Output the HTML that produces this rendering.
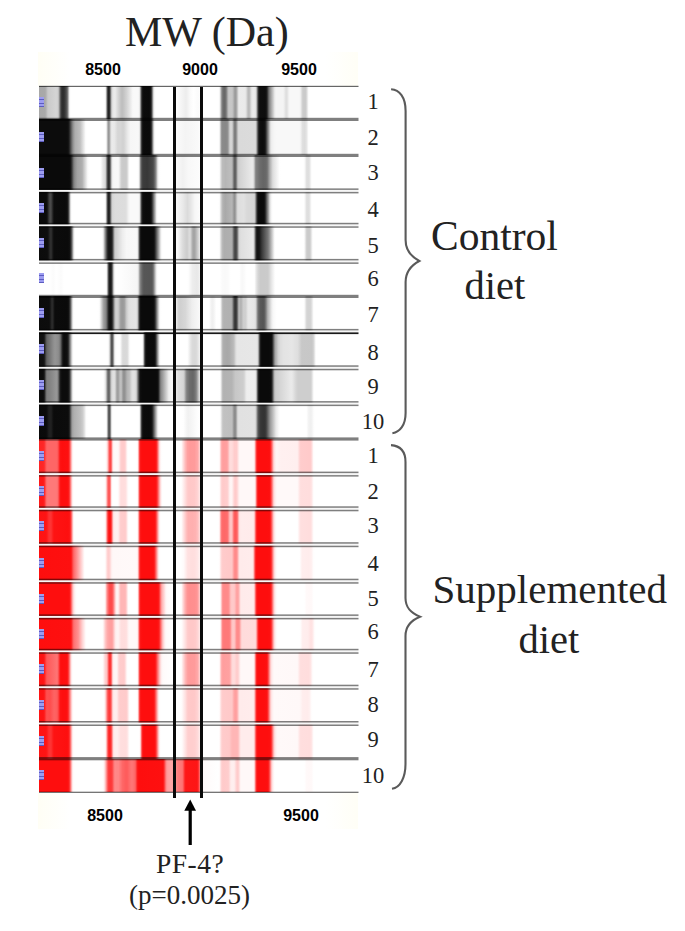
<!DOCTYPE html>
<html><head><meta charset="utf-8"><style>
*{margin:0;padding:0;box-sizing:border-box}
html,body{width:685px;height:931px;background:#fff;overflow:hidden;position:relative}
.ser{font-family:"Liberation Serif",serif;color:#222;position:absolute;white-space:nowrap;line-height:1}
.ax{font-family:"Liberation Sans",sans-serif;font-weight:bold;font-size:16px;color:#000;position:absolute;white-space:nowrap;line-height:1;width:60px;text-align:center}
.ln{position:absolute;left:39.0px;width:319.0px}
.sp{position:absolute;left:39.0px;width:319.5px;background:rgba(0,0,0,.5)}
.mk{position:absolute;left:39.4px;width:4.6px;height:10px;background:repeating-linear-gradient(180deg,#9c9cf0 0 2.4px,#5c5cc0 2.4px 3.4px)}
.vl{position:absolute;top:86.5px;height:711.5px;width:3.25px;background:#0a0a0a}
.num{font-family:"Liberation Serif",serif;color:#222;position:absolute;left:353px;width:40px;text-align:center;font-size:22.5px;line-height:1}
</style></head><body>
<div class="hdr" style="position:absolute;left:38px;top:52px;width:320px;height:34px;background:linear-gradient(90deg,#fffef5,#fff 10%,#fff 90%,#fffef6)"></div>
<div style="position:absolute;left:38px;top:793px;width:320px;height:36px;background:linear-gradient(90deg,#fffef5,#fff 10%,#fff 90%,#fffef6)"></div>
<div class="ser" style="left:125px;top:11px;font-size:42px">MW (Da)</div>
<div class="ax" style="left:73px;top:62px">8500</div>
<div class="ax" style="left:170px;top:62px">9000</div>
<div class="ax" style="left:269px;top:62px">9500</div>
<div class="ln" style="top:86.4px;height:33.0px;background:linear-gradient(90deg,rgb(167,167,167) 0.00px,rgb(169,169,169) 6.00px,rgb(177,177,177) 7.00px,rgb(199,199,199) 8.75px,rgb(203,203,203) 9.75px,rgb(212,212,212) 16.75px,rgb(210,210,210) 18.25px,rgb(203,203,203) 19.00px,rgb(182,182,182) 19.75px,rgb(154,154,154) 20.25px,rgb(87,87,87) 21.50px,rgb(60,60,60) 22.25px,rgb(47,47,47) 23.00px,rgb(44,44,44) 24.00px,rgb(48,48,48) 25.00px,rgb(55,55,55) 25.75px,rgb(72,72,72) 27.00px,rgb(88,88,88) 27.75px,rgb(104,104,104) 28.25px,rgb(126,126,126) 28.75px,rgb(215,215,215) 30.00px,rgb(238,238,238) 30.50px,rgb(245,245,245) 30.75px,rgb(252,252,252) 31.25px,rgb(255,255,255) 32.00px,rgb(255,255,255) 64.75px,rgb(253,253,253) 65.75px,rgb(247,247,247) 66.25px,rgb(240,240,240) 66.50px,rgb(212,212,212) 67.00px,rgb(91,91,91) 68.25px,rgb(58,58,58) 68.75px,rgb(38,38,38) 69.25px,rgb(32,32,32) 69.75px,rgb(38,38,38) 70.25px,rgb(58,58,58) 70.75px,rgb(91,91,91) 71.25px,rgb(173,173,173) 72.25px,rgb(204,204,204) 72.75px,rgb(219,219,219) 73.25px,rgb(231,231,231) 74.25px,rgb(235,235,235) 75.25px,rgb(234,234,234) 76.25px,rgb(200,200,200) 81.00px,rgb(192,192,192) 82.50px,rgb(191,191,191) 83.75px,rgb(211,211,211) 87.75px,rgb(248,248,248) 93.75px,rgb(249,249,249) 95.00px,rgb(249,249,249) 98.75px,rgb(246,246,246) 99.75px,rgb(238,238,238) 100.25px,rgb(230,230,230) 100.50px,rgb(200,200,200) 101.00px,rgb(102,102,102) 102.00px,rgb(65,65,65) 102.50px,rgb(38,38,38) 103.00px,rgb(23,23,23) 103.50px,rgb(15,15,15) 104.00px,rgb(11,11,11) 104.75px,rgb(10,10,10) 110.00px,rgb(15,15,15) 111.25px,rgb(24,24,24) 111.75px,rgb(32,32,32) 112.00px,rgb(43,43,43) 112.25px,rgb(73,73,73) 112.75px,rgb(178,178,178) 114.00px,rgb(215,215,215) 114.50px,rgb(227,227,227) 114.75px,rgb(243,243,243) 115.25px,rgb(250,250,250) 115.75px,rgb(253,253,253) 116.25px,rgb(255,255,255) 117.00px,rgb(255,255,255) 136.50px,rgb(237,237,237) 146.75px,rgb(239,239,239) 148.00px,rgb(250,250,250) 151.25px,rgb(255,255,255) 154.25px,rgb(251,251,251) 159.00px,rgb(255,255,255) 164.25px,rgb(255,255,255) 178.50px,rgb(254,254,254) 179.50px,rgb(250,250,250) 180.25px,rgb(232,232,232) 181.00px,rgb(163,163,163) 182.25px,rgb(130,130,130) 183.00px,rgb(110,110,110) 184.00px,rgb(103,103,103) 185.25px,rgb(106,106,106) 186.00px,rgb(115,115,115) 186.75px,rgb(125,125,125) 187.25px,rgb(183,183,183) 189.00px,rgb(193,193,193) 189.50px,rgb(200,200,200) 190.25px,rgb(198,198,198) 193.00px,rgb(191,191,191) 193.75px,rgb(161,161,161) 195.50px,rgb(156,156,156) 196.50px,rgb(170,170,170) 197.50px,rgb(226,226,226) 199.50px,rgb(235,235,235) 200.50px,rgb(234,234,234) 206.00px,rgb(226,226,226) 207.00px,rgb(192,192,192) 208.75px,rgb(184,184,184) 209.75px,rgb(192,192,192) 210.75px,rgb(223,223,223) 212.25px,rgb(232,232,232) 213.00px,rgb(236,236,236) 214.25px,rgb(234,234,234) 216.00px,rgb(224,224,224) 216.75px,rgb(205,205,205) 217.25px,rgb(168,168,168) 217.75px,rgb(70,70,70) 219.00px,rgb(45,45,45) 219.50px,rgb(28,28,28) 220.00px,rgb(20,20,20) 220.50px,rgb(14,14,14) 221.25px,rgb(13,13,13) 225.75px,rgb(17,17,17) 227.00px,rgb(29,29,29) 227.75px,rgb(44,44,44) 228.25px,rgb(98,98,98) 229.50px,rgb(116,116,116) 230.00px,rgb(130,130,130) 230.50px,rgb(147,147,147) 231.25px,rgb(230,230,230) 235.50px,rgb(240,240,240) 236.50px,rgb(244,244,244) 237.50px,rgb(244,244,244) 244.00px,rgb(239,239,239) 245.00px,rgb(226,226,226) 246.50px,rgb(223,223,223) 247.50px,rgb(229,229,229) 248.50px,rgb(244,244,244) 250.00px,rgb(248,248,248) 251.00px,rgb(248,248,248) 260.00px,rgb(243,243,243) 261.25px,rgb(219,219,219) 262.75px,rgb(208,208,208) 263.50px,rgb(203,203,203) 264.25px,rgb(202,202,202) 265.50px,rgb(203,203,203) 266.50px,rgb(210,210,210) 267.25px,rgb(224,224,224) 268.00px,rgb(251,251,251) 269.50px,rgb(254,254,254) 270.25px,rgb(255,255,255) 271.00px,rgb(255,255,255) 319.00px)"></div><div class="ln" style="top:119.4px;height:36.0px;background:linear-gradient(90deg,rgb(12,12,12) 0.00px,rgb(12,12,12) 27.25px,rgb(14,14,14) 28.75px,rgb(21,21,21) 29.50px,rgb(35,35,35) 30.25px,rgb(124,124,124) 33.25px,rgb(141,141,141) 34.00px,rgb(160,160,160) 35.00px,rgb(175,175,175) 36.50px,rgb(190,190,190) 41.00px,rgb(251,251,251) 46.50px,rgb(254,254,254) 47.50px,rgb(255,255,255) 48.75px,rgb(255,255,255) 64.50px,rgb(255,255,255) 66.00px,rgb(253,253,253) 66.50px,rgb(248,248,248) 67.00px,rgb(234,234,234) 67.50px,rgb(185,185,185) 68.50px,rgb(162,162,162) 69.00px,rgb(154,154,154) 69.25px,rgb(149,149,149) 69.75px,rgb(166,166,166) 70.50px,rgb(215,215,215) 71.75px,rgb(227,227,227) 72.25px,rgb(233,233,233) 72.75px,rgb(235,235,235) 73.25px,rgb(232,232,232) 75.50px,rgb(214,214,214) 78.75px,rgb(214,214,214) 81.50px,rgb(209,209,209) 84.00px,rgb(213,213,213) 85.25px,rgb(236,236,236) 89.00px,rgb(246,246,246) 91.50px,rgb(248,248,248) 99.25px,rgb(243,243,243) 100.00px,rgb(230,230,230) 100.50px,rgb(217,217,217) 100.75px,rgb(176,176,176) 101.25px,rgb(102,102,102) 102.00px,rgb(65,65,65) 102.50px,rgb(38,38,38) 103.00px,rgb(23,23,23) 103.50px,rgb(15,15,15) 104.00px,rgb(11,11,11) 104.75px,rgb(10,10,10) 108.75px,rgb(11,11,11) 110.75px,rgb(15,15,15) 111.25px,rgb(23,23,23) 111.75px,rgb(40,40,40) 112.25px,rgb(52,52,52) 112.50px,rgb(84,84,84) 113.00px,rgb(184,184,184) 114.25px,rgb(228,228,228) 115.00px,rgb(243,243,243) 115.50px,rgb(251,251,251) 116.00px,rgb(254,254,254) 116.75px,rgb(255,255,255) 117.50px,rgb(255,255,255) 133.00px,rgb(249,249,249) 139.75px,rgb(244,244,244) 146.50px,rgb(249,249,249) 158.50px,rgb(255,255,255) 164.00px,rgb(255,255,255) 178.75px,rgb(254,254,254) 179.50px,rgb(248,248,248) 180.25px,rgb(236,236,236) 180.75px,rgb(186,186,186) 181.75px,rgb(161,161,161) 182.25px,rgb(144,144,144) 182.75px,rgb(139,139,139) 183.25px,rgb(136,136,136) 186.75px,rgb(140,140,140) 188.25px,rgb(152,152,152) 189.00px,rgb(198,198,198) 190.50px,rgb(207,207,207) 191.00px,rgb(213,213,213) 191.50px,rgb(214,214,214) 192.25px,rgb(211,211,211) 192.75px,rgb(203,203,203) 193.25px,rgb(188,188,188) 193.75px,rgb(137,137,137) 195.00px,rgb(127,127,127) 195.50px,rgb(124,124,124) 196.00px,rgb(126,126,126) 196.50px,rgb(133,133,133) 197.00px,rgb(205,205,205) 199.00px,rgb(214,214,214) 199.50px,rgb(218,218,218) 200.00px,rgb(219,219,219) 215.75px,rgb(213,213,213) 216.50px,rgb(199,199,199) 217.00px,rgb(188,188,188) 217.25px,rgb(152,152,152) 217.75px,rgb(67,67,67) 219.00px,rgb(43,43,43) 219.50px,rgb(27,27,27) 220.00px,rgb(19,19,19) 220.50px,rgb(15,15,15) 221.00px,rgb(12,12,12) 223.25px,rgb(14,14,14) 225.25px,rgb(26,26,26) 226.25px,rgb(47,47,47) 227.00px,rgb(117,117,117) 228.75px,rgb(156,156,156) 229.75px,rgb(198,198,198) 230.75px,rgb(221,221,221) 231.50px,rgb(231,231,231) 232.00px,rgb(239,239,239) 232.75px,rgb(246,246,246) 235.25px,rgb(248,248,248) 237.75px,rgb(248,248,248) 260.00px,rgb(245,245,245) 261.25px,rgb(224,224,224) 263.50px,rgb(220,220,220) 265.50px,rgb(226,226,226) 267.25px,rgb(235,235,235) 268.00px,rgb(253,253,253) 269.50px,rgb(255,255,255) 270.25px,rgb(255,255,255) 271.00px,rgb(255,255,255) 319.00px)"></div><div class="ln" style="top:155.4px;height:35.5px;background:linear-gradient(90deg,rgb(10,10,10) 0.00px,rgb(10,10,10) 29.25px,rgb(12,12,12) 30.75px,rgb(20,20,20) 31.50px,rgb(30,30,30) 32.00px,rgb(52,52,52) 32.75px,rgb(114,114,114) 34.50px,rgb(127,127,127) 35.00px,rgb(140,140,140) 35.75px,rgb(150,150,150) 36.75px,rgb(163,163,163) 38.50px,rgb(172,172,172) 42.25px,rgb(180,180,180) 43.50px,rgb(194,194,194) 44.50px,rgb(250,250,250) 48.75px,rgb(254,254,254) 50.00px,rgb(255,255,255) 51.25px,rgb(255,255,255) 60.75px,rgb(252,252,252) 61.75px,rgb(233,233,233) 63.75px,rgb(220,220,220) 65.75px,rgb(204,204,204) 66.50px,rgb(179,179,179) 67.00px,rgb(139,139,139) 67.50px,rgb(89,89,89) 68.25px,rgb(63,63,63) 68.75px,rgb(48,48,48) 69.25px,rgb(44,44,44) 69.75px,rgb(49,49,49) 70.25px,rgb(66,66,66) 70.75px,rgb(94,94,94) 71.25px,rgb(176,176,176) 72.25px,rgb(212,212,212) 72.75px,rgb(232,232,232) 73.25px,rgb(244,244,244) 74.00px,rgb(247,247,247) 75.25px,rgb(248,248,248) 78.75px,rgb(244,244,244) 79.75px,rgb(215,215,215) 81.75px,rgb(206,206,206) 82.50px,rgb(202,202,202) 83.75px,rgb(202,202,202) 86.75px,rgb(205,205,205) 87.50px,rgb(214,214,214) 88.25px,rgb(249,249,249) 90.00px,rgb(253,253,253) 90.50px,rgb(255,255,255) 91.25px,rgb(255,255,255) 92.00px,rgb(255,255,255) 97.75px,rgb(254,254,254) 99.00px,rgb(249,249,249) 99.50px,rgb(237,237,237) 100.00px,rgb(212,212,212) 100.50px,rgb(134,134,134) 101.50px,rgb(108,108,108) 102.00px,rgb(88,88,88) 102.50px,rgb(75,75,75) 103.00px,rgb(66,66,66) 103.50px,rgb(60,60,60) 104.25px,rgb(56,56,56) 108.25px,rgb(68,68,68) 112.75px,rgb(73,73,73) 113.75px,rgb(81,81,81) 114.50px,rgb(94,94,94) 115.25px,rgb(120,120,120) 116.25px,rgb(145,145,145) 117.00px,rgb(219,219,219) 118.50px,rgb(244,244,244) 119.50px,rgb(250,250,250) 120.00px,rgb(254,254,254) 120.75px,rgb(255,255,255) 122.00px,rgb(255,255,255) 133.50px,rgb(241,241,241) 144.00px,rgb(248,248,248) 149.25px,rgb(251,251,251) 158.75px,rgb(255,255,255) 164.00px,rgb(255,255,255) 179.00px,rgb(254,254,254) 179.75px,rgb(250,250,250) 180.50px,rgb(204,204,204) 182.50px,rgb(188,188,188) 183.50px,rgb(182,182,182) 186.50px,rgb(189,189,189) 191.75px,rgb(184,184,184) 192.75px,rgb(165,165,165) 193.50px,rgb(106,106,106) 195.00px,rgb(96,96,96) 195.50px,rgb(93,93,93) 196.00px,rgb(95,95,95) 196.25px,rgb(105,105,105) 196.75px,rgb(122,122,122) 197.25px,rgb(181,181,181) 198.50px,rgb(196,196,196) 199.00px,rgb(204,204,204) 199.50px,rgb(211,211,211) 201.00px,rgb(233,233,233) 212.50px,rgb(232,232,232) 213.50px,rgb(226,226,226) 214.25px,rgb(208,208,208) 215.00px,rgb(143,143,143) 216.50px,rgb(126,126,126) 217.50px,rgb(108,108,108) 221.00px,rgb(101,101,101) 224.25px,rgb(104,104,104) 226.75px,rgb(110,110,110) 227.75px,rgb(120,120,120) 228.50px,rgb(176,176,176) 231.00px,rgb(215,215,215) 233.50px,rgb(226,226,226) 234.75px,rgb(243,243,243) 238.25px,rgb(254,254,254) 240.50px,rgb(255,255,255) 241.75px,rgb(255,255,255) 264.00px,rgb(252,252,252) 265.25px,rgb(235,235,235) 266.75px,rgb(225,225,225) 267.50px,rgb(221,221,221) 269.00px,rgb(225,225,225) 270.25px,rgb(234,234,234) 271.00px,rgb(252,252,252) 272.50px,rgb(255,255,255) 273.25px,rgb(255,255,255) 274.00px,rgb(255,255,255) 319.00px)"></div><div class="ln" style="top:190.9px;height:34.4px;background:linear-gradient(90deg,rgb(10,10,10) 0.00px,rgb(10,10,10) 6.25px,rgb(13,13,13) 7.50px,rgb(25,25,25) 8.50px,rgb(65,65,65) 10.25px,rgb(75,75,75) 11.25px,rgb(73,73,73) 11.75px,rgb(68,68,68) 12.25px,rgb(25,25,25) 14.25px,rgb(18,18,18) 14.75px,rgb(12,12,12) 15.50px,rgb(10,10,10) 26.00px,rgb(13,13,13) 27.75px,rgb(23,23,23) 28.50px,rgb(39,39,39) 29.00px,rgb(50,50,50) 29.25px,rgb(96,96,96) 30.00px,rgb(204,204,204) 31.25px,rgb(234,234,234) 31.75px,rgb(243,243,243) 32.00px,rgb(248,248,248) 32.25px,rgb(253,253,253) 32.75px,rgb(255,255,255) 33.25px,rgb(255,255,255) 34.00px,rgb(255,255,255) 65.25px,rgb(251,251,251) 66.00px,rgb(240,240,240) 66.50px,rgb(212,212,212) 67.00px,rgb(91,91,91) 68.25px,rgb(58,58,58) 68.75px,rgb(38,38,38) 69.25px,rgb(31,31,31) 69.75px,rgb(35,35,35) 70.25px,rgb(53,53,53) 70.75px,rgb(82,82,82) 71.25px,rgb(157,157,157) 72.25px,rgb(191,191,191) 72.75px,rgb(208,208,208) 73.25px,rgb(215,215,215) 73.75px,rgb(220,220,220) 76.25px,rgb(221,221,221) 86.25px,rgb(226,226,226) 87.50px,rgb(244,244,244) 89.75px,rgb(249,249,249) 91.00px,rgb(249,249,249) 99.25px,rgb(243,243,243) 100.00px,rgb(230,230,230) 100.50px,rgb(217,217,217) 100.75px,rgb(176,176,176) 101.25px,rgb(102,102,102) 102.00px,rgb(65,65,65) 102.50px,rgb(50,50,50) 102.75px,rgb(29,29,29) 103.25px,rgb(18,18,18) 103.75px,rgb(13,13,13) 104.25px,rgb(10,10,10) 107.00px,rgb(11,11,11) 111.00px,rgb(16,16,16) 111.75px,rgb(24,24,24) 112.25px,rgb(37,37,37) 112.75px,rgb(54,54,54) 113.25px,rgb(165,165,165) 115.75px,rgb(238,238,238) 117.50px,rgb(247,247,247) 118.00px,rgb(252,252,252) 118.50px,rgb(255,255,255) 119.50px,rgb(255,255,255) 133.00px,rgb(247,247,247) 137.25px,rgb(235,235,235) 143.25px,rgb(219,219,219) 148.50px,rgb(226,226,226) 150.75px,rgb(246,246,246) 155.75px,rgb(250,250,250) 159.25px,rgb(255,255,255) 163.25px,rgb(255,255,255) 179.00px,rgb(254,254,254) 179.75px,rgb(250,250,250) 180.50px,rgb(202,202,202) 182.50px,rgb(186,186,186) 183.25px,rgb(177,177,177) 184.00px,rgb(169,169,169) 186.25px,rgb(181,181,181) 192.50px,rgb(177,177,177) 193.25px,rgb(146,146,146) 195.25px,rgb(147,147,147) 195.75px,rgb(155,155,155) 196.25px,rgb(212,212,212) 198.25px,rgb(218,218,218) 198.75px,rgb(222,222,222) 199.50px,rgb(225,225,225) 204.75px,rgb(217,217,217) 208.00px,rgb(214,214,214) 214.75px,rgb(205,205,205) 215.50px,rgb(187,187,187) 216.00px,rgb(153,153,153) 216.50px,rgb(83,83,83) 217.50px,rgb(52,52,52) 218.00px,rgb(41,41,41) 218.25px,rgb(24,24,24) 218.75px,rgb(15,15,15) 219.25px,rgb(12,12,12) 219.75px,rgb(10,10,10) 222.25px,rgb(12,12,12) 224.75px,rgb(16,16,16) 225.25px,rgb(24,24,24) 225.75px,rgb(45,45,45) 226.50px,rgb(113,113,113) 228.25px,rgb(151,151,151) 229.25px,rgb(205,205,205) 230.50px,rgb(227,227,227) 231.25px,rgb(241,241,241) 232.00px,rgb(249,249,249) 232.75px,rgb(253,253,253) 233.50px,rgb(255,255,255) 234.50px,rgb(255,255,255) 263.75px,rgb(255,255,255) 264.50px,rgb(252,252,252) 265.25px,rgb(235,235,235) 266.75px,rgb(225,225,225) 267.50px,rgb(221,221,221) 269.00px,rgb(225,225,225) 270.25px,rgb(234,234,234) 271.00px,rgb(252,252,252) 272.50px,rgb(255,255,255) 273.25px,rgb(255,255,255) 274.00px,rgb(255,255,255) 319.00px)"></div><div class="ln" style="top:225.3px;height:36.1px;background:linear-gradient(90deg,rgb(12,12,12) 0.00px,rgb(13,13,13) 8.25px,rgb(20,20,20) 9.25px,rgb(44,44,44) 11.00px,rgb(47,47,47) 11.75px,rgb(43,43,43) 12.50px,rgb(17,17,17) 14.25px,rgb(11,11,11) 15.50px,rgb(10,10,10) 28.75px,rgb(13,13,13) 30.25px,rgb(18,18,18) 30.75px,rgb(29,29,29) 31.25px,rgb(56,56,56) 32.00px,rgb(95,95,95) 32.75px,rgb(213,213,213) 34.50px,rgb(243,243,243) 35.25px,rgb(253,253,253) 36.00px,rgb(255,255,255) 36.50px,rgb(255,255,255) 37.25px,rgb(255,255,255) 60.75px,rgb(254,254,254) 62.50px,rgb(248,248,248) 63.50px,rgb(224,224,224) 64.50px,rgb(150,150,150) 66.00px,rgb(71,71,71) 67.75px,rgb(44,44,44) 68.50px,rgb(32,32,32) 69.00px,rgb(25,25,25) 69.50px,rgb(20,20,20) 70.75px,rgb(25,25,25) 72.25px,rgb(40,40,40) 73.00px,rgb(61,61,61) 73.50px,rgb(138,138,138) 74.75px,rgb(171,171,171) 75.25px,rgb(192,192,192) 75.75px,rgb(206,206,206) 76.50px,rgb(237,237,237) 83.50px,rgb(247,247,247) 87.50px,rgb(248,248,248) 97.25px,rgb(244,244,244) 98.00px,rgb(233,233,233) 98.50px,rgb(223,223,223) 98.75px,rgb(188,188,188) 99.25px,rgb(92,92,92) 100.25px,rgb(56,56,56) 100.75px,rgb(32,32,32) 101.25px,rgb(19,19,19) 101.75px,rgb(13,13,13) 102.25px,rgb(10,10,10) 103.00px,rgb(10,10,10) 112.00px,rgb(12,12,12) 114.25px,rgb(17,17,17) 115.00px,rgb(26,26,26) 115.50px,rgb(46,46,46) 116.25px,rgb(141,141,141) 119.00px,rgb(236,236,236) 121.75px,rgb(248,248,248) 122.50px,rgb(252,252,252) 123.00px,rgb(255,255,255) 123.75px,rgb(255,255,255) 124.50px,rgb(255,255,255) 132.25px,rgb(254,254,254) 134.25px,rgb(247,247,247) 138.75px,rgb(219,219,219) 143.75px,rgb(206,206,206) 147.25px,rgb(207,207,207) 148.50px,rgb(218,218,218) 150.00px,rgb(219,219,219) 150.75px,rgb(213,213,213) 151.50px,rgb(173,173,173) 153.50px,rgb(165,165,165) 154.25px,rgb(163,163,163) 155.00px,rgb(166,166,166) 155.75px,rgb(175,175,175) 156.50px,rgb(248,248,248) 162.00px,rgb(255,255,255) 163.75px,rgb(255,255,255) 165.50px,rgb(255,255,255) 179.25px,rgb(254,254,254) 180.00px,rgb(250,250,250) 180.50px,rgb(202,202,202) 182.50px,rgb(191,191,191) 183.00px,rgb(181,181,181) 183.75px,rgb(174,174,174) 185.50px,rgb(176,176,176) 192.00px,rgb(172,172,172) 192.75px,rgb(152,152,152) 193.50px,rgb(100,100,100) 194.75px,rgb(84,84,84) 195.25px,rgb(74,74,74) 195.75px,rgb(70,70,70) 196.50px,rgb(76,76,76) 197.25px,rgb(87,87,87) 197.75px,rgb(107,107,107) 198.25px,rgb(166,166,166) 199.25px,rgb(194,194,194) 199.75px,rgb(211,211,211) 200.25px,rgb(218,218,218) 200.75px,rgb(223,223,223) 202.25px,rgb(233,233,233) 213.50px,rgb(228,228,228) 214.25px,rgb(216,216,216) 214.75px,rgb(205,205,205) 215.00px,rgb(170,170,170) 215.50px,rgb(72,72,72) 216.75px,rgb(45,45,45) 217.25px,rgb(36,36,36) 217.50px,rgb(21,21,21) 218.25px,rgb(18,18,18) 219.00px,rgb(25,25,25) 220.50px,rgb(58,58,58) 223.00px,rgb(117,117,117) 228.75px,rgb(137,137,137) 230.00px,rgb(247,247,247) 235.25px,rgb(254,254,254) 236.25px,rgb(255,255,255) 237.25px,rgb(255,255,255) 264.00px,rgb(254,254,254) 264.75px,rgb(251,251,251) 265.25px,rgb(223,223,223) 266.75px,rgb(209,209,209) 267.50px,rgb(203,203,203) 268.25px,rgb(202,202,202) 269.50px,rgb(203,203,203) 270.50px,rgb(209,209,209) 271.25px,rgb(222,222,222) 272.00px,rgb(247,247,247) 273.25px,rgb(252,252,252) 273.75px,rgb(255,255,255) 274.50px,rgb(255,255,255) 275.25px,rgb(255,255,255) 319.00px)"></div><div class="ln" style="top:261.4px;height:35.0px;background:linear-gradient(90deg,rgb(255,255,255) 0.00px,rgb(255,255,255) 10.75px,rgb(251,251,251) 14.25px,rgb(255,255,255) 17.25px,rgb(251,251,251) 22.00px,rgb(255,255,255) 25.00px,rgb(255,255,255) 26.50px,rgb(255,255,255) 66.25px,rgb(252,252,252) 67.00px,rgb(243,243,243) 67.50px,rgb(217,217,217) 68.00px,rgb(195,195,195) 68.25px,rgb(95,95,95) 69.25px,rgb(61,61,61) 69.75px,rgb(48,48,48) 70.00px,rgb(32,32,32) 70.50px,rgb(24,24,24) 71.25px,rgb(29,29,29) 72.00px,rgb(44,44,44) 72.50px,rgb(55,55,55) 72.75px,rgb(86,86,86) 73.25px,rgb(193,193,193) 74.50px,rgb(211,211,211) 74.75px,rgb(234,234,234) 75.25px,rgb(246,246,246) 75.75px,rgb(252,252,252) 76.25px,rgb(254,254,254) 76.75px,rgb(255,255,255) 77.50px,rgb(246,246,246) 97.75px,rgb(241,241,241) 98.50px,rgb(232,232,232) 99.00px,rgb(216,216,216) 99.50px,rgb(153,153,153) 100.75px,rgb(129,129,129) 101.50px,rgb(114,114,114) 102.25px,rgb(97,97,97) 103.50px,rgb(90,90,90) 104.25px,rgb(86,86,86) 105.25px,rgb(85,85,85) 110.50px,rgb(87,87,87) 112.50px,rgb(97,97,97) 113.50px,rgb(122,122,122) 114.50px,rgb(225,225,225) 117.00px,rgb(244,244,244) 117.75px,rgb(254,254,254) 118.75px,rgb(255,255,255) 120.00px,rgb(255,255,255) 147.50px,rgb(254,254,254) 149.25px,rgb(237,237,237) 153.50px,rgb(232,232,232) 158.00px,rgb(236,236,236) 159.50px,rgb(253,253,253) 162.75px,rgb(255,255,255) 164.50px,rgb(255,255,255) 179.75px,rgb(255,255,255) 181.00px,rgb(250,250,250) 183.25px,rgb(249,249,249) 186.50px,rgb(250,250,250) 188.75px,rgb(255,255,255) 191.75px,rgb(255,255,255) 199.00px,rgb(255,255,255) 200.25px,rgb(249,249,249) 202.25px,rgb(248,248,248) 203.50px,rgb(250,250,250) 205.00px,rgb(255,255,255) 207.75px,rgb(255,255,255) 213.75px,rgb(255,255,255) 214.75px,rgb(253,253,253) 215.50px,rgb(225,225,225) 217.75px,rgb(212,212,212) 219.25px,rgb(202,202,202) 221.50px,rgb(202,202,202) 226.00px,rgb(203,203,203) 228.50px,rgb(208,208,208) 229.75px,rgb(234,234,234) 233.00px,rgb(254,254,254) 236.00px,rgb(255,255,255) 237.50px,rgb(255,255,255) 319.00px)"></div><div class="ln" style="top:296.4px;height:35.0px;background:linear-gradient(90deg,rgb(12,12,12) 0.00px,rgb(13,13,13) 10.00px,rgb(19,19,19) 11.00px,rgb(39,39,39) 12.50px,rgb(44,44,44) 13.25px,rgb(38,38,38) 14.00px,rgb(16,16,16) 15.50px,rgb(11,11,11) 16.50px,rgb(10,10,10) 27.50px,rgb(12,12,12) 29.00px,rgb(17,17,17) 29.50px,rgb(27,27,27) 30.00px,rgb(53,53,53) 30.75px,rgb(91,91,91) 31.50px,rgb(209,209,209) 33.25px,rgb(241,241,241) 34.00px,rgb(250,250,250) 34.50px,rgb(254,254,254) 35.00px,rgb(255,255,255) 36.25px,rgb(255,255,255) 58.00px,rgb(254,254,254) 59.75px,rgb(248,248,248) 60.75px,rgb(197,197,197) 63.00px,rgb(172,172,172) 64.00px,rgb(158,158,158) 64.75px,rgb(141,141,141) 66.25px,rgb(129,129,129) 67.00px,rgb(106,106,106) 67.75px,rgb(54,54,54) 69.00px,rgb(37,37,37) 69.50px,rgb(22,22,22) 70.25px,rgb(16,16,16) 71.25px,rgb(19,19,19) 72.25px,rgb(32,32,32) 73.00px,rgb(63,63,63) 73.75px,rgb(134,134,134) 75.00px,rgb(164,164,164) 75.50px,rgb(196,196,196) 76.25px,rgb(208,208,208) 77.00px,rgb(210,210,210) 78.00px,rgb(204,204,204) 79.00px,rgb(195,195,195) 79.75px,rgb(166,166,166) 81.25px,rgb(157,157,157) 82.00px,rgb(153,153,153) 84.00px,rgb(163,163,163) 85.50px,rgb(205,205,205) 87.75px,rgb(222,222,222) 89.75px,rgb(227,227,227) 91.75px,rgb(229,229,229) 96.75px,rgb(221,221,221) 97.75px,rgb(209,209,209) 98.25px,rgb(198,198,198) 98.50px,rgb(162,162,162) 99.00px,rgb(82,82,82) 100.00px,rgb(50,50,50) 100.50px,rgb(29,29,29) 101.00px,rgb(17,17,17) 101.50px,rgb(12,12,12) 102.00px,rgb(10,10,10) 102.75px,rgb(10,10,10) 111.75px,rgb(12,12,12) 114.25px,rgb(19,19,19) 115.00px,rgb(28,28,28) 115.50px,rgb(43,43,43) 116.00px,rgb(62,62,62) 116.50px,rgb(195,195,195) 119.25px,rgb(241,241,241) 120.50px,rgb(249,249,249) 121.00px,rgb(253,253,253) 121.50px,rgb(255,255,255) 122.75px,rgb(255,255,255) 131.75px,rgb(255,255,255) 133.50px,rgb(246,246,246) 136.25px,rgb(212,212,212) 139.25px,rgb(207,207,207) 140.75px,rgb(215,215,215) 146.50px,rgb(238,238,238) 153.00px,rgb(246,246,246) 158.75px,rgb(255,255,255) 163.75px,rgb(255,255,255) 169.50px,rgb(254,254,254) 170.25px,rgb(242,242,242) 172.25px,rgb(240,240,240) 173.50px,rgb(243,243,243) 174.75px,rgb(255,255,255) 177.25px,rgb(255,255,255) 180.00px,rgb(254,254,254) 180.75px,rgb(250,250,250) 181.25px,rgb(241,241,241) 181.75px,rgb(201,201,201) 183.00px,rgb(189,189,189) 183.50px,rgb(182,182,182) 184.00px,rgb(178,178,178) 185.25px,rgb(177,177,177) 191.50px,rgb(175,175,175) 192.25px,rgb(168,168,168) 192.75px,rgb(143,143,143) 193.50px,rgb(86,86,86) 194.75px,rgb(68,68,68) 195.25px,rgb(58,58,58) 195.75px,rgb(54,54,54) 196.50px,rgb(60,60,60) 197.25px,rgb(74,74,74) 197.75px,rgb(96,96,96) 198.25px,rgb(154,154,154) 199.25px,rgb(179,179,179) 199.75px,rgb(184,184,184) 200.00px,rgb(186,186,186) 200.50px,rgb(179,179,179) 201.50px,rgb(179,179,179) 202.25px,rgb(205,205,205) 204.25px,rgb(208,208,208) 206.75px,rgb(229,229,229) 208.75px,rgb(233,233,233) 209.75px,rgb(230,230,230) 214.75px,rgb(226,226,226) 216.00px,rgb(219,219,219) 216.50px,rgb(207,207,207) 217.00px,rgb(126,126,126) 218.75px,rgb(108,108,108) 219.50px,rgb(98,98,98) 220.25px,rgb(89,89,89) 221.50px,rgb(85,85,85) 223.75px,rgb(87,87,87) 224.75px,rgb(94,94,94) 225.50px,rgb(108,108,108) 226.25px,rgb(148,148,148) 227.75px,rgb(178,178,178) 228.75px,rgb(240,240,240) 233.00px,rgb(250,250,250) 234.75px,rgb(255,255,255) 237.75px,rgb(255,255,255) 264.00px,rgb(254,254,254) 264.75px,rgb(252,252,252) 265.25px,rgb(229,229,229) 266.75px,rgb(217,217,217) 267.50px,rgb(212,212,212) 268.25px,rgb(211,211,211) 269.75px,rgb(212,212,212) 271.25px,rgb(216,216,216) 272.00px,rgb(226,226,226) 272.75px,rgb(252,252,252) 274.50px,rgb(255,255,255) 275.25px,rgb(255,255,255) 276.00px,rgb(255,255,255) 319.00px)"></div><div class="ln" style="top:331.4px;height:36.4px;background:linear-gradient(90deg,rgb(17,17,17) 0.00px,rgb(17,17,17) 3.75px,rgb(21,21,21) 4.75px,rgb(32,32,32) 5.50px,rgb(85,85,85) 7.25px,rgb(95,95,95) 7.75px,rgb(102,102,102) 8.25px,rgb(141,141,141) 14.25px,rgb(149,149,149) 16.00px,rgb(142,142,142) 19.00px,rgb(137,137,137) 19.75px,rgb(127,127,127) 20.50px,rgb(104,104,104) 21.50px,rgb(38,38,38) 23.25px,rgb(25,25,25) 23.75px,rgb(17,17,17) 24.25px,rgb(12,12,12) 25.50px,rgb(15,15,15) 28.00px,rgb(26,26,26) 28.75px,rgb(48,48,48) 29.50px,rgb(174,174,174) 32.00px,rgb(213,213,213) 32.75px,rgb(238,238,238) 33.50px,rgb(248,248,248) 34.00px,rgb(253,253,253) 34.50px,rgb(255,255,255) 35.25px,rgb(255,255,255) 36.00px,rgb(255,255,255) 66.50px,rgb(255,255,255) 68.25px,rgb(251,251,251) 69.25px,rgb(237,237,237) 70.00px,rgb(200,200,200) 70.75px,rgb(105,105,105) 72.00px,rgb(85,85,85) 72.50px,rgb(79,79,79) 73.00px,rgb(82,82,82) 73.25px,rgb(100,100,100) 73.75px,rgb(129,129,129) 74.25px,rgb(194,194,194) 75.00px,rgb(224,224,224) 75.50px,rgb(234,234,234) 75.75px,rgb(249,249,249) 76.50px,rgb(255,255,255) 77.75px,rgb(255,255,255) 79.25px,rgb(254,254,254) 80.50px,rgb(251,251,251) 81.25px,rgb(233,233,233) 82.50px,rgb(222,222,222) 83.25px,rgb(217,217,217) 84.25px,rgb(216,216,216) 86.25px,rgb(217,217,217) 87.75px,rgb(221,221,221) 88.50px,rgb(231,231,231) 89.25px,rgb(252,252,252) 90.75px,rgb(255,255,255) 91.75px,rgb(255,255,255) 102.50px,rgb(252,252,252) 103.25px,rgb(242,242,242) 103.75px,rgb(231,231,231) 104.00px,rgb(190,190,190) 104.50px,rgb(87,87,87) 105.50px,rgb(51,51,51) 106.00px,rgb(38,38,38) 106.25px,rgb(22,22,22) 106.75px,rgb(14,14,14) 107.25px,rgb(10,10,10) 108.75px,rgb(11,11,11) 114.75px,rgb(15,15,15) 115.50px,rgb(22,22,22) 116.00px,rgb(36,36,36) 116.50px,rgb(56,56,56) 117.00px,rgb(167,167,167) 119.00px,rgb(231,231,231) 120.25px,rgb(244,244,244) 120.75px,rgb(251,251,251) 121.25px,rgb(254,254,254) 121.75px,rgb(255,255,255) 122.50px,rgb(255,255,255) 147.50px,rgb(253,253,253) 148.75px,rgb(234,234,234) 151.00px,rgb(225,225,225) 152.00px,rgb(218,218,218) 153.50px,rgb(216,216,216) 155.50px,rgb(217,217,217) 157.00px,rgb(221,221,221) 158.00px,rgb(252,252,252) 162.25px,rgb(255,255,255) 164.00px,rgb(255,255,255) 179.75px,rgb(254,254,254) 180.50px,rgb(250,250,250) 181.25px,rgb(241,241,241) 181.75px,rgb(198,198,198) 183.00px,rgb(180,180,180) 183.75px,rgb(172,172,172) 184.75px,rgb(168,168,168) 188.25px,rgb(171,171,171) 190.50px,rgb(185,185,185) 194.25px,rgb(195,195,195) 195.25px,rgb(223,223,223) 197.00px,rgb(230,230,230) 198.25px,rgb(231,231,231) 217.25px,rgb(225,225,225) 218.25px,rgb(213,213,213) 218.75px,rgb(202,202,202) 219.00px,rgb(166,166,166) 219.50px,rgb(83,83,83) 220.50px,rgb(51,51,51) 221.00px,rgb(29,29,29) 221.50px,rgb(18,18,18) 222.00px,rgb(13,13,13) 222.50px,rgb(10,10,10) 223.25px,rgb(10,10,10) 229.75px,rgb(12,12,12) 232.00px,rgb(16,16,16) 232.50px,rgb(25,25,25) 233.00px,rgb(52,52,52) 233.75px,rgb(128,128,128) 235.25px,rgb(145,145,145) 235.75px,rgb(169,169,169) 236.50px,rgb(209,209,209) 239.25px,rgb(221,221,221) 241.50px,rgb(227,227,227) 244.50px,rgb(230,230,230) 252.75px,rgb(222,222,222) 258.75px,rgb(200,200,200) 262.75px,rgb(199,199,199) 272.75px,rgb(207,207,207) 274.25px,rgb(220,220,220) 275.00px,rgb(252,252,252) 276.75px,rgb(255,255,255) 277.50px,rgb(255,255,255) 278.25px,rgb(255,255,255) 319.00px)"></div><div class="ln" style="top:367.8px;height:35.8px;background:linear-gradient(90deg,rgb(12,12,12) 0.00px,rgb(12,12,12) 3.75px,rgb(18,18,18) 4.75px,rgb(35,35,35) 5.50px,rgb(55,55,55) 6.00px,rgb(90,90,90) 6.75px,rgb(109,109,109) 7.25px,rgb(121,121,121) 7.75px,rgb(127,127,127) 8.25px,rgb(133,133,133) 11.50px,rgb(151,151,151) 17.25px,rgb(147,147,147) 18.00px,rgb(133,133,133) 18.75px,rgb(115,115,115) 19.25px,rgb(45,45,45) 20.75px,rgb(29,29,29) 21.25px,rgb(17,17,17) 22.00px,rgb(12,12,12) 23.50px,rgb(12,12,12) 28.00px,rgb(15,15,15) 29.00px,rgb(25,25,25) 29.75px,rgb(49,49,49) 30.50px,rgb(74,74,74) 31.00px,rgb(188,188,188) 32.75px,rgb(218,218,218) 33.25px,rgb(238,238,238) 33.75px,rgb(248,248,248) 34.25px,rgb(253,253,253) 34.75px,rgb(255,255,255) 36.00px,rgb(255,255,255) 63.75px,rgb(251,251,251) 65.00px,rgb(233,233,233) 66.25px,rgb(209,209,209) 67.00px,rgb(136,136,136) 68.25px,rgb(116,116,116) 68.75px,rgb(104,104,104) 69.25px,rgb(101,101,101) 69.75px,rgb(103,103,103) 70.00px,rgb(114,114,114) 70.50px,rgb(187,187,187) 72.00px,rgb(205,205,205) 72.50px,rgb(218,218,218) 73.25px,rgb(223,223,223) 74.00px,rgb(225,225,225) 75.00px,rgb(220,220,220) 75.75px,rgb(210,210,210) 76.25px,rgb(173,173,173) 77.50px,rgb(159,159,159) 78.25px,rgb(160,160,160) 79.25px,rgb(189,189,189) 81.00px,rgb(193,193,193) 81.75px,rgb(186,186,186) 82.50px,rgb(151,151,151) 84.00px,rgb(143,143,143) 85.00px,rgb(149,149,149) 86.00px,rgb(178,178,178) 88.00px,rgb(192,192,192) 90.50px,rgb(223,223,223) 93.00px,rgb(226,226,226) 94.25px,rgb(224,224,224) 96.00px,rgb(213,213,213) 97.00px,rgb(188,188,188) 97.75px,rgb(142,142,142) 98.50px,rgb(59,59,59) 100.00px,rgb(29,29,29) 100.75px,rgb(15,15,15) 101.50px,rgb(10,10,10) 103.00px,rgb(10,10,10) 117.25px,rgb(14,14,14) 118.50px,rgb(21,21,21) 119.00px,rgb(34,34,34) 119.50px,rgb(55,55,55) 120.00px,rgb(113,113,113) 121.25px,rgb(129,129,129) 121.75px,rgb(139,139,139) 122.25px,rgb(235,235,235) 129.50px,rgb(244,244,244) 131.00px,rgb(248,248,248) 132.25px,rgb(246,246,246) 134.25px,rgb(222,222,222) 139.50px,rgb(214,214,214) 144.25px,rgb(199,199,199) 145.25px,rgb(139,139,139) 147.25px,rgb(123,123,123) 148.50px,rgb(109,109,109) 150.50px,rgb(103,103,103) 153.50px,rgb(107,107,107) 155.00px,rgb(125,125,125) 156.75px,rgb(143,143,143) 157.75px,rgb(211,211,211) 160.00px,rgb(244,244,244) 162.00px,rgb(253,253,253) 163.25px,rgb(255,255,255) 164.50px,rgb(255,255,255) 180.25px,rgb(254,254,254) 180.75px,rgb(250,250,250) 181.25px,rgb(241,241,241) 181.75px,rgb(210,210,210) 182.75px,rgb(189,189,189) 183.50px,rgb(180,180,180) 184.25px,rgb(178,178,178) 185.00px,rgb(180,180,180) 192.75px,rgb(199,199,199) 196.50px,rgb(205,205,205) 204.00px,rgb(212,212,212) 205.25px,rgb(233,233,233) 207.00px,rgb(238,238,238) 208.00px,rgb(239,239,239) 215.25px,rgb(235,235,235) 216.25px,rgb(226,226,226) 216.75px,rgb(218,218,218) 217.00px,rgb(205,205,205) 217.25px,rgb(164,164,164) 217.75px,rgb(97,97,97) 218.50px,rgb(60,60,60) 219.00px,rgb(35,35,35) 219.50px,rgb(26,26,26) 219.75px,rgb(16,16,16) 220.25px,rgb(10,10,10) 221.50px,rgb(10,10,10) 229.25px,rgb(11,11,11) 231.25px,rgb(13,13,13) 231.75px,rgb(20,20,20) 232.25px,rgb(34,34,34) 232.75px,rgb(56,56,56) 233.25px,rgb(132,132,132) 234.50px,rgb(162,162,162) 235.00px,rgb(176,176,176) 235.25px,rgb(198,198,198) 236.00px,rgb(206,206,206) 237.25px,rgb(234,234,234) 252.00px,rgb(232,232,232) 253.25px,rgb(213,213,213) 257.00px,rgb(206,206,206) 259.00px,rgb(206,206,206) 271.00px,rgb(208,208,208) 271.75px,rgb(216,216,216) 272.50px,rgb(253,253,253) 274.75px,rgb(255,255,255) 275.50px,rgb(255,255,255) 276.25px,rgb(255,255,255) 319.00px)"></div><div class="ln" style="top:403.6px;height:35.4px;background:linear-gradient(90deg,rgb(10,10,10) 0.00px,rgb(11,11,11) 7.00px,rgb(15,15,15) 8.00px,rgb(30,30,30) 9.75px,rgb(33,33,33) 11.00px,rgb(31,31,31) 12.25px,rgb(14,14,14) 14.25px,rgb(11,11,11) 15.25px,rgb(12,12,12) 29.00px,rgb(19,19,19) 29.75px,rgb(37,37,37) 30.50px,rgb(58,58,58) 31.00px,rgb(109,109,109) 32.00px,rgb(131,131,131) 32.50px,rgb(148,148,148) 33.00px,rgb(161,161,161) 33.50px,rgb(175,175,175) 35.00px,rgb(192,192,192) 41.50px,rgb(203,203,203) 43.50px,rgb(219,219,219) 45.00px,rgb(247,247,247) 46.75px,rgb(253,253,253) 47.50px,rgb(255,255,255) 49.00px,rgb(255,255,255) 65.25px,rgb(255,255,255) 66.50px,rgb(252,252,252) 67.00px,rgb(243,243,243) 67.50px,rgb(219,219,219) 68.00px,rgb(109,109,109) 69.25px,rgb(87,87,87) 69.75px,rgb(82,82,82) 70.00px,rgb(81,81,81) 70.25px,rgb(85,85,85) 70.50px,rgb(105,105,105) 71.00px,rgb(139,139,139) 71.50px,rgb(211,211,211) 72.25px,rgb(239,239,239) 72.75px,rgb(251,251,251) 73.25px,rgb(255,255,255) 74.00px,rgb(255,255,255) 75.75px,rgb(255,255,255) 99.25px,rgb(252,252,252) 100.00px,rgb(241,241,241) 100.50px,rgb(229,229,229) 100.75px,rgb(189,189,189) 101.25px,rgb(108,108,108) 102.00px,rgb(68,68,68) 102.50px,rgb(39,39,39) 103.00px,rgb(23,23,23) 103.50px,rgb(15,15,15) 104.00px,rgb(11,11,11) 104.75px,rgb(10,10,10) 109.50px,rgb(12,12,12) 112.00px,rgb(24,24,24) 113.00px,rgb(45,45,45) 113.75px,rgb(177,177,177) 117.00px,rgb(241,241,241) 118.75px,rgb(253,253,253) 119.75px,rgb(255,255,255) 121.00px,rgb(255,255,255) 143.00px,rgb(254,254,254) 144.50px,rgb(243,243,243) 148.00px,rgb(241,241,241) 149.25px,rgb(246,246,246) 153.00px,rgb(255,255,255) 159.75px,rgb(255,255,255) 179.75px,rgb(254,254,254) 180.50px,rgb(251,251,251) 181.25px,rgb(212,212,212) 183.00px,rgb(202,202,202) 183.50px,rgb(196,196,196) 184.00px,rgb(193,193,193) 185.00px,rgb(191,191,191) 192.50px,rgb(179,179,179) 193.50px,rgb(144,144,144) 195.00px,rgb(139,139,139) 195.75px,rgb(141,141,141) 196.25px,rgb(148,148,148) 196.75px,rgb(164,164,164) 197.25px,rgb(209,209,209) 198.50px,rgb(219,219,219) 199.00px,rgb(225,225,225) 199.75px,rgb(226,226,226) 215.25px,rgb(222,222,222) 216.00px,rgb(208,208,208) 216.75px,rgb(186,186,186) 217.25px,rgb(104,104,104) 218.75px,rgb(87,87,87) 219.25px,rgb(76,76,76) 219.75px,rgb(63,63,63) 220.75px,rgb(55,55,55) 221.75px,rgb(51,51,51) 224.25px,rgb(52,52,52) 225.75px,rgb(59,59,59) 226.75px,rgb(76,76,76) 227.75px,rgb(133,133,133) 230.25px,rgb(157,157,157) 231.50px,rgb(233,233,233) 237.00px,rgb(252,252,252) 240.00px,rgb(255,255,255) 241.50px,rgb(255,255,255) 266.25px,rgb(254,254,254) 267.50px,rgb(242,242,242) 269.75px,rgb(240,240,240) 271.25px,rgb(242,242,242) 272.75px,rgb(254,254,254) 275.00px,rgb(255,255,255) 276.50px,rgb(255,255,255) 319.00px)"></div><div class="ln" style="top:439.0px;height:35.1px;background:linear-gradient(90deg,rgb(254,37,37) 0.00px,rgb(254,38,38) 3.75px,rgb(254,41,41) 4.75px,rgb(254,51,51) 5.50px,rgb(254,92,92) 7.25px,rgb(254,102,102) 8.25px,rgb(254,102,102) 17.00px,rgb(254,99,99) 18.00px,rgb(254,88,88) 18.75px,rgb(254,75,75) 19.25px,rgb(254,35,35) 20.50px,rgb(254,24,24) 21.00px,rgb(254,18,18) 21.50px,rgb(254,14,14) 23.00px,rgb(254,16,16) 28.75px,rgb(254,24,24) 29.50px,rgb(254,37,37) 30.00px,rgb(254,47,47) 30.25px,rgb(254,73,73) 30.75px,rgb(255,172,172) 32.25px,rgb(255,217,217) 33.00px,rgb(255,236,236) 33.50px,rgb(255,247,247) 34.00px,rgb(255,252,252) 34.50px,rgb(255,255,255) 35.25px,rgb(255,255,255) 36.00px,rgb(255,255,255) 64.25px,rgb(255,255,255) 66.00px,rgb(255,249,249) 67.00px,rgb(255,235,235) 67.75px,rgb(255,217,217) 68.25px,rgb(255,190,190) 68.75px,rgb(254,107,107) 70.00px,rgb(254,83,83) 70.50px,rgb(254,69,69) 71.00px,rgb(254,67,67) 71.25px,rgb(254,70,70) 71.50px,rgb(254,86,86) 72.00px,rgb(254,116,116) 72.50px,rgb(255,200,200) 73.50px,rgb(255,228,228) 74.00px,rgb(255,242,242) 74.50px,rgb(255,248,248) 75.25px,rgb(255,250,250) 77.00px,rgb(255,248,248) 78.75px,rgb(255,242,242) 79.75px,rgb(255,216,216) 81.25px,rgb(255,207,207) 82.00px,rgb(255,203,203) 83.00px,rgb(255,203,203) 84.75px,rgb(255,206,206) 85.75px,rgb(255,215,215) 86.50px,rgb(255,249,249) 88.25px,rgb(255,255,255) 89.25px,rgb(255,255,255) 90.75px,rgb(255,255,255) 97.25px,rgb(255,253,253) 98.00px,rgb(255,244,244) 98.50px,rgb(255,234,234) 98.75px,rgb(255,197,197) 99.25px,rgb(254,91,91) 100.25px,rgb(254,70,70) 100.50px,rgb(254,53,53) 100.75px,rgb(254,30,30) 101.25px,rgb(254,24,24) 101.50px,rgb(254,17,17) 102.00px,rgb(254,14,14) 103.50px,rgb(254,14,14) 115.50px,rgb(254,20,20) 116.75px,rgb(254,29,29) 117.25px,rgb(254,47,47) 117.75px,rgb(254,74,74) 118.25px,rgb(255,139,139) 119.25px,rgb(255,177,177) 119.75px,rgb(255,207,207) 120.25px,rgb(255,227,227) 120.75px,rgb(255,239,239) 121.25px,rgb(255,250,250) 122.00px,rgb(255,254,254) 122.75px,rgb(255,255,255) 123.75px,rgb(255,255,255) 141.25px,rgb(255,250,250) 142.50px,rgb(255,212,212) 144.75px,rgb(255,187,187) 146.25px,rgb(255,160,160) 148.50px,rgb(255,154,154) 150.50px,rgb(255,155,155) 155.50px,rgb(255,169,169) 158.50px,rgb(255,190,190) 159.75px,rgb(255,243,243) 162.25px,rgb(255,251,251) 163.00px,rgb(255,254,254) 163.75px,rgb(255,255,255) 164.75px,rgb(255,255,255) 179.25px,rgb(255,252,252) 180.00px,rgb(255,246,246) 180.50px,rgb(255,191,191) 182.00px,rgb(255,174,174) 182.50px,rgb(255,162,162) 183.25px,rgb(255,158,158) 184.25px,rgb(255,159,159) 187.25px,rgb(255,164,164) 188.25px,rgb(255,177,177) 189.00px,rgb(255,212,212) 190.50px,rgb(255,220,220) 191.50px,rgb(255,219,219) 193.00px,rgb(255,204,204) 195.50px,rgb(255,205,205) 197.50px,rgb(255,217,217) 198.50px,rgb(255,244,244) 200.25px,rgb(255,248,248) 201.25px,rgb(255,248,248) 213.50px,rgb(255,245,245) 214.50px,rgb(255,238,238) 215.00px,rgb(255,230,230) 215.25px,rgb(255,219,219) 215.50px,rgb(255,182,182) 216.00px,rgb(254,90,90) 217.00px,rgb(254,56,56) 217.50px,rgb(254,33,33) 218.00px,rgb(254,21,21) 218.50px,rgb(254,16,16) 219.00px,rgb(254,14,14) 219.75px,rgb(254,14,14) 228.00px,rgb(254,15,15) 230.25px,rgb(254,19,19) 230.75px,rgb(254,27,27) 231.25px,rgb(254,54,54) 232.00px,rgb(255,154,154) 233.75px,rgb(255,186,186) 234.25px,rgb(255,207,207) 234.75px,rgb(255,221,221) 235.25px,rgb(255,234,234) 236.00px,rgb(255,243,243) 237.00px,rgb(255,246,246) 237.75px,rgb(255,240,240) 242.00px,rgb(255,239,239) 257.75px,rgb(255,236,236) 258.75px,rgb(255,211,211) 260.75px,rgb(255,204,204) 261.75px,rgb(255,202,202) 270.50px,rgb(255,204,204) 271.50px,rgb(255,211,211) 272.25px,rgb(255,224,224) 273.00px,rgb(255,251,251) 274.50px,rgb(255,254,254) 275.25px,rgb(255,255,255) 276.00px,rgb(255,255,255) 319.00px)"></div><div class="ln" style="top:474.1px;height:34.7px;background:linear-gradient(90deg,rgb(254,24,24) 0.00px,rgb(254,24,24) 3.75px,rgb(254,29,29) 4.75px,rgb(254,43,43) 5.50px,rgb(254,104,104) 7.25px,rgb(254,114,114) 7.75px,rgb(254,119,119) 8.25px,rgb(254,121,121) 9.50px,rgb(254,121,121) 16.75px,rgb(254,118,118) 18.00px,rgb(254,108,108) 18.75px,rgb(254,93,93) 19.25px,rgb(254,34,34) 20.75px,rgb(254,23,23) 21.25px,rgb(254,17,17) 21.75px,rgb(254,14,14) 22.75px,rgb(254,14,14) 27.25px,rgb(254,17,17) 29.00px,rgb(254,30,30) 29.75px,rgb(254,47,47) 30.25px,rgb(254,73,73) 30.75px,rgb(255,172,172) 32.25px,rgb(255,217,217) 33.00px,rgb(255,236,236) 33.50px,rgb(255,247,247) 34.00px,rgb(255,252,252) 34.50px,rgb(255,255,255) 35.25px,rgb(255,255,255) 36.00px,rgb(255,255,255) 63.75px,rgb(255,255,255) 65.25px,rgb(255,251,251) 66.00px,rgb(255,242,242) 66.50px,rgb(255,213,213) 67.25px,rgb(255,130,130) 68.50px,rgb(254,107,107) 69.00px,rgb(254,90,90) 69.50px,rgb(254,82,82) 70.00px,rgb(254,88,88) 70.50px,rgb(254,108,108) 71.00px,rgb(255,140,140) 71.50px,rgb(255,212,212) 72.25px,rgb(255,239,239) 72.75px,rgb(255,251,251) 73.25px,rgb(255,255,255) 74.00px,rgb(255,255,255) 75.50px,rgb(255,255,255) 78.25px,rgb(255,251,251) 79.25px,rgb(255,232,232) 80.75px,rgb(255,225,225) 81.50px,rgb(255,221,221) 82.50px,rgb(255,221,221) 84.75px,rgb(255,222,222) 86.25px,rgb(255,227,227) 87.00px,rgb(255,236,236) 87.75px,rgb(255,251,251) 89.00px,rgb(255,255,255) 90.00px,rgb(255,255,255) 97.25px,rgb(255,253,253) 98.00px,rgb(255,244,244) 98.50px,rgb(255,234,234) 98.75px,rgb(255,197,197) 99.25px,rgb(254,91,91) 100.25px,rgb(254,70,70) 100.50px,rgb(254,53,53) 100.75px,rgb(254,30,30) 101.25px,rgb(254,24,24) 101.50px,rgb(254,17,17) 102.00px,rgb(254,14,14) 103.50px,rgb(254,14,14) 115.50px,rgb(254,16,16) 116.50px,rgb(254,20,20) 117.00px,rgb(254,35,35) 117.75px,rgb(254,52,52) 118.25px,rgb(255,169,169) 120.50px,rgb(255,208,208) 121.25px,rgb(255,234,234) 122.00px,rgb(255,251,251) 123.00px,rgb(255,254,254) 123.50px,rgb(255,255,255) 124.25px,rgb(255,255,255) 141.50px,rgb(255,252,252) 142.75px,rgb(255,208,208) 148.00px,rgb(255,202,202) 149.00px,rgb(255,200,200) 150.50px,rgb(255,201,201) 155.25px,rgb(255,210,210) 158.25px,rgb(255,222,222) 159.75px,rgb(255,253,253) 163.00px,rgb(255,255,255) 164.75px,rgb(255,255,255) 179.25px,rgb(255,253,253) 180.00px,rgb(255,250,250) 180.50px,rgb(255,220,220) 182.00px,rgb(255,211,211) 182.50px,rgb(255,204,204) 183.25px,rgb(255,202,202) 184.25px,rgb(255,206,206) 188.25px,rgb(255,214,214) 189.00px,rgb(255,241,241) 190.75px,rgb(255,246,246) 191.75px,rgb(255,243,243) 193.00px,rgb(255,212,212) 195.00px,rgb(255,205,205) 195.75px,rgb(255,203,203) 196.50px,rgb(255,210,210) 198.00px,rgb(255,241,241) 200.00px,rgb(255,248,248) 201.25px,rgb(255,248,248) 214.50px,rgb(255,247,247) 215.00px,rgb(255,243,243) 215.50px,rgb(255,231,231) 216.00px,rgb(255,220,220) 216.25px,rgb(255,181,181) 216.75px,rgb(254,84,84) 217.75px,rgb(254,65,65) 218.00px,rgb(254,38,38) 218.50px,rgb(254,23,23) 219.00px,rgb(254,16,16) 219.50px,rgb(254,14,14) 220.25px,rgb(254,14,14) 228.00px,rgb(254,15,15) 230.25px,rgb(254,19,19) 230.75px,rgb(254,27,27) 231.25px,rgb(254,54,54) 232.00px,rgb(255,154,154) 233.75px,rgb(255,186,186) 234.25px,rgb(255,207,207) 234.75px,rgb(255,226,226) 235.50px,rgb(255,237,237) 236.25px,rgb(255,245,245) 237.25px,rgb(255,249,249) 238.25px,rgb(255,249,249) 257.50px,rgb(255,247,247) 258.75px,rgb(255,228,228) 260.75px,rgb(255,222,222) 261.75px,rgb(255,221,221) 270.50px,rgb(255,226,226) 272.25px,rgb(255,235,235) 273.00px,rgb(255,252,252) 274.50px,rgb(255,255,255) 275.25px,rgb(255,255,255) 276.00px,rgb(255,255,255) 319.00px)"></div><div class="ln" style="top:508.8px;height:35.9px;background:linear-gradient(90deg,rgb(254,19,19) 0.00px,rgb(254,20,20) 7.00px,rgb(254,27,27) 8.00px,rgb(254,48,48) 9.75px,rgb(254,53,53) 11.00px,rgb(254,49,49) 12.25px,rgb(254,25,25) 14.25px,rgb(254,19,19) 15.50px,rgb(254,15,15) 28.75px,rgb(254,18,18) 30.25px,rgb(254,30,30) 31.00px,rgb(254,37,37) 31.25px,rgb(254,58,58) 31.75px,rgb(254,87,87) 32.25px,rgb(255,200,200) 33.75px,rgb(255,239,239) 34.50px,rgb(255,250,250) 35.00px,rgb(255,254,254) 35.50px,rgb(255,255,255) 36.75px,rgb(255,255,255) 63.75px,rgb(255,254,254) 65.25px,rgb(255,249,249) 66.00px,rgb(255,235,235) 66.50px,rgb(255,224,224) 66.75px,rgb(255,189,189) 67.25px,rgb(254,85,85) 68.50px,rgb(254,55,55) 69.00px,rgb(254,44,44) 69.25px,rgb(254,34,34) 69.50px,rgb(254,22,22) 70.00px,rgb(254,17,17) 70.75px,rgb(254,24,24) 71.50px,rgb(254,40,40) 72.00px,rgb(254,52,52) 72.25px,rgb(254,86,86) 72.75px,rgb(255,174,174) 73.75px,rgb(255,211,211) 74.25px,rgb(255,221,221) 74.50px,rgb(255,228,228) 74.75px,rgb(255,236,236) 75.25px,rgb(255,239,239) 76.25px,rgb(255,241,241) 77.75px,rgb(255,239,239) 78.75px,rgb(255,233,233) 79.50px,rgb(255,211,211) 81.00px,rgb(255,205,205) 81.75px,rgb(255,203,203) 85.75px,rgb(255,206,206) 86.50px,rgb(255,215,215) 87.25px,rgb(255,250,250) 89.00px,rgb(255,255,255) 90.00px,rgb(255,255,255) 92.00px,rgb(255,255,255) 97.50px,rgb(255,253,253) 98.00px,rgb(255,250,250) 98.25px,rgb(255,234,234) 98.75px,rgb(255,197,197) 99.25px,rgb(254,91,91) 100.25px,rgb(254,53,53) 100.75px,rgb(254,30,30) 101.25px,rgb(254,19,19) 101.75px,rgb(254,14,14) 103.00px,rgb(254,14,14) 114.25px,rgb(254,17,17) 115.50px,rgb(254,23,23) 116.00px,rgb(254,34,34) 116.50px,rgb(254,64,64) 117.25px,rgb(255,166,166) 119.00px,rgb(255,211,211) 119.75px,rgb(255,231,231) 120.25px,rgb(255,244,244) 120.75px,rgb(255,251,251) 121.25px,rgb(255,255,255) 122.25px,rgb(255,255,255) 141.25px,rgb(255,251,251) 142.50px,rgb(255,214,214) 145.50px,rgb(255,184,184) 148.00px,rgb(255,176,176) 149.50px,rgb(255,175,175) 153.50px,rgb(255,179,179) 156.50px,rgb(255,191,191) 158.75px,rgb(255,209,209) 160.00px,rgb(255,250,250) 162.75px,rgb(255,255,255) 164.00px,rgb(255,255,255) 177.50px,rgb(255,255,255) 179.25px,rgb(255,250,250) 180.00px,rgb(255,245,245) 180.25px,rgb(255,227,227) 180.75px,rgb(255,156,156) 181.75px,rgb(255,130,130) 182.25px,rgb(254,115,115) 182.75px,rgb(254,108,108) 183.25px,rgb(254,105,105) 184.00px,rgb(254,104,104) 185.75px,rgb(254,108,108) 188.00px,rgb(254,114,114) 188.50px,rgb(254,125,125) 189.00px,rgb(255,171,171) 190.25px,rgb(255,187,187) 190.75px,rgb(255,196,196) 191.25px,rgb(255,200,200) 192.00px,rgb(255,194,194) 192.75px,rgb(255,181,181) 193.25px,rgb(255,157,157) 193.75px,rgb(254,113,113) 194.75px,rgb(254,99,99) 195.25px,rgb(254,92,92) 195.75px,rgb(254,89,89) 196.50px,rgb(254,92,92) 197.25px,rgb(254,105,105) 198.00px,rgb(254,122,122) 198.50px,rgb(255,209,209) 200.00px,rgb(255,225,225) 200.50px,rgb(255,234,234) 201.25px,rgb(255,236,236) 202.75px,rgb(255,235,235) 214.00px,rgb(255,226,226) 214.75px,rgb(255,208,208) 215.25px,rgb(255,171,171) 215.75px,rgb(254,84,84) 216.75px,rgb(254,51,51) 217.25px,rgb(254,30,30) 217.75px,rgb(254,19,19) 218.25px,rgb(254,14,14) 219.50px,rgb(254,14,14) 228.00px,rgb(254,15,15) 230.25px,rgb(254,19,19) 230.75px,rgb(254,27,27) 231.25px,rgb(254,54,54) 232.00px,rgb(255,172,172) 234.00px,rgb(255,199,199) 234.50px,rgb(255,218,218) 235.00px,rgb(255,236,236) 235.75px,rgb(255,249,249) 236.75px,rgb(255,253,253) 237.50px,rgb(255,255,255) 238.50px,rgb(255,255,255) 257.50px,rgb(255,253,253) 258.75px,rgb(255,231,231) 260.75px,rgb(255,223,223) 261.75px,rgb(255,221,221) 269.75px,rgb(255,221,221) 271.25px,rgb(255,226,226) 272.25px,rgb(255,235,235) 273.00px,rgb(255,252,252) 274.50px,rgb(255,255,255) 275.25px,rgb(255,255,255) 276.00px,rgb(255,255,255) 319.00px)"></div><div class="ln" style="top:544.7px;height:36.5px;background:linear-gradient(90deg,rgb(254,14,14) 0.00px,rgb(254,16,16) 31.25px,rgb(254,23,23) 32.00px,rgb(254,33,33) 32.50px,rgb(254,91,91) 34.25px,rgb(254,112,112) 35.25px,rgb(255,161,161) 39.00px,rgb(255,251,251) 45.25px,rgb(255,255,255) 46.25px,rgb(255,255,255) 47.25px,rgb(255,255,255) 65.00px,rgb(255,254,254) 65.75px,rgb(255,251,251) 66.25px,rgb(255,214,214) 68.25px,rgb(255,207,207) 68.75px,rgb(255,204,204) 69.50px,rgb(255,210,210) 70.75px,rgb(255,242,242) 72.75px,rgb(255,248,248) 74.00px,rgb(255,249,249) 97.25px,rgb(255,245,245) 98.00px,rgb(255,233,233) 98.50px,rgb(255,223,223) 98.75px,rgb(255,184,184) 99.25px,rgb(254,86,86) 100.25px,rgb(254,67,67) 100.50px,rgb(254,39,39) 101.00px,rgb(254,29,29) 101.25px,rgb(254,19,19) 101.75px,rgb(254,15,15) 102.25px,rgb(254,14,14) 103.25px,rgb(254,14,14) 113.25px,rgb(254,16,16) 114.25px,rgb(254,21,21) 114.75px,rgb(254,37,37) 115.50px,rgb(254,56,56) 116.00px,rgb(255,159,159) 118.00px,rgb(255,200,200) 118.75px,rgb(255,229,229) 119.50px,rgb(255,246,246) 120.25px,rgb(255,252,252) 120.75px,rgb(255,254,254) 121.25px,rgb(255,255,255) 122.00px,rgb(255,255,255) 141.75px,rgb(255,250,250) 144.75px,rgb(255,225,225) 148.75px,rgb(255,222,222) 152.75px,rgb(255,223,223) 155.75px,rgb(255,230,230) 158.50px,rgb(255,237,237) 159.75px,rgb(255,253,253) 162.75px,rgb(255,255,255) 164.00px,rgb(255,255,255) 179.00px,rgb(255,254,254) 179.75px,rgb(255,252,252) 180.25px,rgb(255,247,247) 180.75px,rgb(255,220,220) 182.00px,rgb(255,206,206) 183.00px,rgb(255,203,203) 184.00px,rgb(255,200,200) 192.50px,rgb(255,192,192) 193.25px,rgb(255,144,144) 195.25px,rgb(255,138,138) 196.50px,rgb(255,140,140) 197.25px,rgb(255,149,149) 198.00px,rgb(255,165,165) 198.50px,rgb(255,220,220) 200.00px,rgb(255,229,229) 200.50px,rgb(255,235,235) 201.25px,rgb(255,236,236) 212.50px,rgb(255,231,231) 213.50px,rgb(255,221,221) 214.00px,rgb(255,211,211) 214.25px,rgb(255,177,177) 214.75px,rgb(254,88,88) 215.75px,rgb(254,54,54) 216.25px,rgb(254,31,31) 216.75px,rgb(254,20,20) 217.25px,rgb(254,15,15) 217.75px,rgb(254,14,14) 218.50px,rgb(254,14,14) 228.50px,rgb(254,16,16) 230.75px,rgb(254,19,19) 231.25px,rgb(254,28,28) 231.75px,rgb(254,55,55) 232.50px,rgb(255,157,157) 234.25px,rgb(255,189,189) 234.75px,rgb(255,211,211) 235.25px,rgb(255,232,232) 236.00px,rgb(255,246,246) 237.00px,rgb(255,253,253) 238.00px,rgb(255,255,255) 239.00px,rgb(255,255,255) 259.50px,rgb(255,254,254) 260.75px,rgb(255,242,242) 262.50px,rgb(255,238,238) 263.25px,rgb(255,236,236) 269.75px,rgb(255,239,239) 272.25px,rgb(255,253,253) 274.50px,rgb(255,255,255) 276.00px,rgb(255,255,255) 319.00px)"></div><div class="ln" style="top:581.2px;height:35.7px;background:linear-gradient(90deg,rgb(254,14,14) 0.00px,rgb(254,14,14) 28.50px,rgb(254,16,16) 30.00px,rgb(254,26,26) 30.75px,rgb(254,42,42) 31.25px,rgb(254,66,66) 31.75px,rgb(254,127,127) 32.75px,rgb(255,157,157) 33.25px,rgb(255,186,186) 33.75px,rgb(255,214,214) 34.50px,rgb(255,236,236) 35.50px,rgb(255,250,250) 36.75px,rgb(255,254,254) 37.75px,rgb(255,255,255) 39.00px,rgb(255,255,255) 63.25px,rgb(255,255,255) 64.75px,rgb(255,251,251) 65.50px,rgb(255,243,243) 66.00px,rgb(255,228,228) 66.50px,rgb(255,146,146) 68.00px,rgb(254,120,120) 68.75px,rgb(254,99,99) 69.50px,rgb(254,79,79) 70.50px,rgb(254,72,72) 71.75px,rgb(254,76,76) 72.75px,rgb(254,89,89) 73.50px,rgb(254,112,112) 74.25px,rgb(255,194,194) 76.00px,rgb(255,224,224) 76.75px,rgb(255,240,240) 77.50px,rgb(255,244,244) 78.00px,rgb(255,244,244) 78.50px,rgb(255,241,241) 79.00px,rgb(255,233,233) 79.50px,rgb(255,202,202) 80.75px,rgb(255,188,188) 81.50px,rgb(255,182,182) 82.50px,rgb(255,182,182) 85.50px,rgb(255,184,184) 86.25px,rgb(255,194,194) 87.00px,rgb(255,214,214) 87.75px,rgb(255,247,247) 89.00px,rgb(255,253,253) 89.50px,rgb(255,254,254) 90.00px,rgb(255,255,255) 91.25px,rgb(255,255,255) 97.25px,rgb(255,253,253) 98.00px,rgb(255,244,244) 98.50px,rgb(255,234,234) 98.75px,rgb(255,197,197) 99.25px,rgb(254,91,91) 100.25px,rgb(254,70,70) 100.50px,rgb(254,40,40) 101.00px,rgb(254,30,30) 101.25px,rgb(254,19,19) 101.75px,rgb(254,15,15) 102.25px,rgb(254,14,14) 103.25px,rgb(254,14,14) 117.75px,rgb(254,18,18) 119.00px,rgb(254,25,25) 119.50px,rgb(254,39,39) 120.00px,rgb(254,61,61) 120.50px,rgb(254,116,116) 121.50px,rgb(255,139,139) 122.00px,rgb(255,160,160) 122.50px,rgb(255,182,182) 123.25px,rgb(255,238,238) 126.50px,rgb(255,247,247) 127.50px,rgb(255,251,251) 128.75px,rgb(255,255,255) 133.00px,rgb(255,255,255) 140.00px,rgb(255,254,254) 141.50px,rgb(255,249,249) 142.50px,rgb(255,203,203) 144.75px,rgb(255,178,178) 146.00px,rgb(255,148,148) 148.25px,rgb(255,142,142) 150.25px,rgb(255,143,143) 155.50px,rgb(255,148,148) 157.50px,rgb(255,156,156) 158.50px,rgb(255,180,180) 159.75px,rgb(255,241,241) 162.25px,rgb(255,250,250) 163.00px,rgb(255,254,254) 163.75px,rgb(255,255,255) 164.75px,rgb(255,255,255) 178.75px,rgb(255,255,255) 180.25px,rgb(255,253,253) 180.75px,rgb(255,247,247) 181.25px,rgb(255,233,233) 181.75px,rgb(255,183,183) 182.75px,rgb(255,151,151) 183.50px,rgb(255,140,140) 184.25px,rgb(255,138,138) 185.00px,rgb(255,138,138) 188.25px,rgb(255,141,141) 189.25px,rgb(255,150,150) 190.00px,rgb(255,193,193) 191.75px,rgb(255,202,202) 193.00px,rgb(255,199,199) 195.25px,rgb(255,165,165) 197.50px,rgb(255,162,162) 198.75px,rgb(255,167,167) 199.25px,rgb(255,177,177) 199.75px,rgb(255,226,226) 201.50px,rgb(255,235,235) 202.50px,rgb(255,236,236) 213.50px,rgb(255,231,231) 214.50px,rgb(255,219,219) 215.00px,rgb(255,208,208) 215.25px,rgb(255,171,171) 215.75px,rgb(254,84,84) 216.75px,rgb(254,51,51) 217.25px,rgb(254,30,30) 217.75px,rgb(254,19,19) 218.25px,rgb(254,14,14) 219.50px,rgb(254,14,14) 228.50px,rgb(254,16,16) 230.75px,rgb(254,19,19) 231.25px,rgb(254,28,28) 231.75px,rgb(254,55,55) 232.50px,rgb(255,157,157) 234.25px,rgb(255,189,189) 234.75px,rgb(255,211,211) 235.25px,rgb(255,232,232) 236.00px,rgb(255,246,246) 237.00px,rgb(255,253,253) 238.00px,rgb(255,255,255) 239.00px,rgb(255,255,255) 264.00px,rgb(255,255,255) 265.25px,rgb(255,249,249) 267.50px,rgb(255,248,248) 270.50px,rgb(255,249,249) 272.50px,rgb(255,255,255) 274.75px,rgb(255,255,255) 276.25px,rgb(255,255,255) 319.00px)"></div><div class="ln" style="top:616.9px;height:34.4px;background:linear-gradient(90deg,rgb(254,14,14) 0.00px,rgb(254,16,16) 31.25px,rgb(254,24,24) 32.00px,rgb(254,35,35) 32.50px,rgb(254,89,89) 34.00px,rgb(254,103,103) 34.50px,rgb(254,113,113) 35.00px,rgb(254,120,120) 35.75px,rgb(255,145,145) 39.25px,rgb(255,216,216) 43.75px,rgb(255,252,252) 46.75px,rgb(255,254,254) 47.50px,rgb(255,255,255) 48.50px,rgb(255,255,255) 61.50px,rgb(255,255,255) 63.00px,rgb(255,250,250) 64.00px,rgb(255,213,213) 65.75px,rgb(255,192,192) 66.75px,rgb(255,167,167) 68.75px,rgb(255,159,159) 70.75px,rgb(255,159,159) 72.50px,rgb(255,167,167) 73.50px,rgb(255,183,183) 74.25px,rgb(255,232,232) 76.25px,rgb(255,239,239) 77.00px,rgb(255,243,243) 77.75px,rgb(255,244,244) 78.75px,rgb(255,242,242) 79.50px,rgb(255,228,228) 81.25px,rgb(255,222,222) 82.25px,rgb(255,221,221) 86.00px,rgb(255,225,225) 87.50px,rgb(255,246,246) 89.75px,rgb(255,249,249) 90.75px,rgb(255,249,249) 97.25px,rgb(255,245,245) 98.00px,rgb(255,234,234) 98.50px,rgb(255,223,223) 98.75px,rgb(255,184,184) 99.25px,rgb(254,86,86) 100.25px,rgb(254,67,67) 100.50px,rgb(254,51,51) 100.75px,rgb(254,29,29) 101.25px,rgb(254,23,23) 101.50px,rgb(254,17,17) 102.00px,rgb(254,14,14) 104.00px,rgb(254,14,14) 117.75px,rgb(254,19,19) 119.25px,rgb(254,32,32) 120.00px,rgb(254,49,49) 120.50px,rgb(255,131,131) 122.25px,rgb(255,152,152) 122.75px,rgb(255,184,184) 123.50px,rgb(255,219,219) 124.75px,rgb(255,241,241) 126.00px,rgb(255,247,247) 126.75px,rgb(255,251,251) 127.75px,rgb(255,255,255) 133.75px,rgb(255,255,255) 141.25px,rgb(255,252,252) 142.75px,rgb(255,220,220) 146.75px,rgb(255,205,205) 148.50px,rgb(255,200,200) 150.00px,rgb(255,200,200) 154.25px,rgb(255,203,203) 156.50px,rgb(255,213,213) 158.75px,rgb(255,225,225) 160.00px,rgb(255,252,252) 162.75px,rgb(255,255,255) 164.00px,rgb(255,255,255) 179.50px,rgb(255,254,254) 180.50px,rgb(255,245,245) 181.25px,rgb(255,229,229) 181.75px,rgb(255,168,168) 182.75px,rgb(255,141,141) 183.25px,rgb(255,134,134) 183.50px,rgb(254,124,124) 184.25px,rgb(254,121,121) 185.00px,rgb(254,121,121) 189.25px,rgb(254,124,124) 190.25px,rgb(254,129,129) 190.75px,rgb(255,137,137) 191.25px,rgb(255,179,179) 192.50px,rgb(255,192,192) 193.00px,rgb(255,201,201) 194.00px,rgb(255,197,197) 195.25px,rgb(255,189,189) 195.75px,rgb(255,145,145) 197.50px,rgb(255,139,139) 198.25px,rgb(255,139,139) 199.00px,rgb(255,141,141) 199.75px,rgb(255,146,146) 200.25px,rgb(255,160,160) 200.75px,rgb(255,207,207) 202.25px,rgb(255,219,219) 203.25px,rgb(255,220,220) 215.75px,rgb(255,212,212) 216.50px,rgb(255,196,196) 217.00px,rgb(255,183,183) 217.25px,rgb(255,142,142) 217.75px,rgb(254,86,86) 218.50px,rgb(254,54,54) 219.00px,rgb(254,32,32) 219.50px,rgb(254,20,20) 220.00px,rgb(254,16,16) 220.50px,rgb(254,14,14) 221.25px,rgb(254,14,14) 228.50px,rgb(254,16,16) 230.75px,rgb(254,19,19) 231.25px,rgb(254,28,28) 231.75px,rgb(254,55,55) 232.50px,rgb(255,157,157) 234.25px,rgb(255,189,189) 234.75px,rgb(255,211,211) 235.25px,rgb(255,232,232) 236.00px,rgb(255,246,246) 237.00px,rgb(255,253,253) 238.00px,rgb(255,255,255) 239.00px,rgb(255,255,255) 260.00px,rgb(255,254,254) 261.25px,rgb(255,242,242) 263.00px,rgb(255,238,238) 263.75px,rgb(255,236,236) 269.00px,rgb(255,225,225) 272.00px,rgb(255,229,229) 273.25px,rgb(255,253,253) 275.75px,rgb(255,255,255) 277.25px,rgb(255,255,255) 319.00px)"></div><div class="ln" style="top:651.3px;height:35.9px;background:linear-gradient(90deg,rgb(254,19,19) 0.00px,rgb(254,19,19) 3.75px,rgb(254,22,22) 4.75px,rgb(254,28,28) 5.25px,rgb(254,38,38) 5.75px,rgb(254,76,76) 7.25px,rgb(254,84,84) 7.75px,rgb(254,90,90) 8.50px,rgb(254,115,115) 17.50px,rgb(254,113,113) 18.25px,rgb(254,100,100) 19.00px,rgb(254,34,34) 20.75px,rgb(254,19,19) 21.50px,rgb(254,14,14) 22.75px,rgb(254,16,16) 27.75px,rgb(254,26,26) 28.50px,rgb(254,50,50) 29.25px,rgb(254,75,75) 29.75px,rgb(255,150,150) 31.00px,rgb(255,187,187) 31.50px,rgb(255,225,225) 32.25px,rgb(255,241,241) 32.75px,rgb(255,249,249) 33.25px,rgb(255,253,253) 33.75px,rgb(255,255,255) 34.25px,rgb(255,255,255) 35.25px,rgb(255,255,255) 61.50px,rgb(255,255,255) 63.00px,rgb(255,250,250) 64.00px,rgb(255,222,222) 65.50px,rgb(255,212,212) 66.00px,rgb(255,196,196) 67.50px,rgb(255,183,183) 68.00px,rgb(255,155,155) 68.50px,rgb(254,92,92) 69.50px,rgb(254,66,66) 70.00px,rgb(254,51,51) 70.50px,rgb(254,47,47) 71.00px,rgb(254,56,56) 71.50px,rgb(254,77,77) 72.00px,rgb(254,111,111) 72.50px,rgb(255,179,179) 73.25px,rgb(255,216,216) 73.75px,rgb(255,235,235) 74.25px,rgb(255,244,244) 75.00px,rgb(255,246,246) 76.50px,rgb(255,245,245) 77.50px,rgb(255,239,239) 78.25px,rgb(255,213,213) 79.75px,rgb(255,204,204) 80.75px,rgb(255,203,203) 84.50px,rgb(255,205,205) 85.25px,rgb(255,214,214) 86.00px,rgb(255,251,251) 88.00px,rgb(255,255,255) 89.00px,rgb(255,255,255) 97.25px,rgb(255,253,253) 98.00px,rgb(255,244,244) 98.50px,rgb(255,234,234) 98.75px,rgb(255,197,197) 99.25px,rgb(254,91,91) 100.25px,rgb(254,70,70) 100.50px,rgb(254,53,53) 100.75px,rgb(254,30,30) 101.25px,rgb(254,24,24) 101.50px,rgb(254,17,17) 102.00px,rgb(254,14,14) 103.50px,rgb(254,14,14) 114.50px,rgb(254,16,16) 115.50px,rgb(254,20,20) 116.00px,rgb(254,29,29) 116.50px,rgb(254,43,43) 117.00px,rgb(254,62,62) 117.50px,rgb(254,117,117) 118.75px,rgb(255,147,147) 119.50px,rgb(255,207,207) 121.00px,rgb(255,236,236) 122.25px,rgb(255,245,245) 123.00px,rgb(255,249,249) 123.75px,rgb(255,251,251) 124.75px,rgb(255,255,255) 133.50px,rgb(255,255,255) 141.25px,rgb(255,250,250) 142.50px,rgb(255,207,207) 145.00px,rgb(255,183,183) 146.50px,rgb(255,158,158) 148.75px,rgb(255,154,154) 151.00px,rgb(255,155,155) 155.50px,rgb(255,169,169) 158.50px,rgb(255,190,190) 159.75px,rgb(255,243,243) 162.25px,rgb(255,251,251) 163.00px,rgb(255,254,254) 163.75px,rgb(255,255,255) 164.75px,rgb(255,255,255) 179.25px,rgb(255,252,252) 180.00px,rgb(255,246,246) 180.50px,rgb(255,191,191) 182.00px,rgb(255,174,174) 182.50px,rgb(255,162,162) 183.25px,rgb(255,158,158) 184.25px,rgb(255,161,161) 190.25px,rgb(255,175,175) 191.25px,rgb(255,214,214) 193.00px,rgb(255,220,220) 194.00px,rgb(255,218,218) 195.50px,rgb(255,204,204) 197.75px,rgb(255,206,206) 198.75px,rgb(255,214,214) 199.50px,rgb(255,242,242) 201.25px,rgb(255,248,248) 202.25px,rgb(255,248,248) 213.50px,rgb(255,244,244) 214.50px,rgb(255,234,234) 215.00px,rgb(255,224,224) 215.25px,rgb(255,187,187) 215.75px,rgb(254,70,70) 217.00px,rgb(254,40,40) 217.50px,rgb(254,24,24) 218.00px,rgb(254,17,17) 218.50px,rgb(254,14,14) 219.25px,rgb(254,14,14) 225.00px,rgb(254,16,16) 227.25px,rgb(254,19,19) 227.75px,rgb(254,28,28) 228.25px,rgb(254,56,56) 229.00px,rgb(255,157,157) 230.75px,rgb(255,187,187) 231.25px,rgb(255,208,208) 231.75px,rgb(255,227,227) 232.50px,rgb(255,237,237) 233.25px,rgb(255,245,245) 234.25px,rgb(255,249,249) 235.25px,rgb(255,248,248) 257.50px,rgb(255,246,246) 258.75px,rgb(255,227,227) 260.75px,rgb(255,222,222) 261.75px,rgb(255,221,221) 269.50px,rgb(255,226,226) 271.25px,rgb(255,234,234) 272.00px,rgb(255,253,253) 273.75px,rgb(255,255,255) 275.25px,rgb(255,255,255) 319.00px)"></div><div class="ln" style="top:687.2px;height:36.3px;background:linear-gradient(90deg,rgb(254,19,19) 0.00px,rgb(254,19,19) 3.75px,rgb(254,22,22) 4.75px,rgb(254,32,32) 5.50px,rgb(254,73,73) 7.25px,rgb(254,80,80) 8.00px,rgb(254,77,77) 11.00px,rgb(254,96,96) 14.50px,rgb(254,99,99) 15.75px,rgb(254,94,94) 17.50px,rgb(254,85,85) 18.50px,rgb(254,70,70) 19.25px,rgb(254,28,28) 20.75px,rgb(254,18,18) 21.50px,rgb(254,14,14) 23.50px,rgb(254,14,14) 27.00px,rgb(254,17,17) 28.00px,rgb(254,29,29) 28.75px,rgb(254,43,43) 29.25px,rgb(254,64,64) 29.75px,rgb(255,170,170) 31.75px,rgb(255,218,218) 32.75px,rgb(255,241,241) 33.50px,rgb(255,249,249) 34.00px,rgb(255,253,253) 34.50px,rgb(255,255,255) 35.25px,rgb(255,255,255) 36.00px,rgb(255,255,255) 62.75px,rgb(255,255,255) 64.25px,rgb(255,253,253) 64.75px,rgb(255,249,249) 65.25px,rgb(255,233,233) 66.00px,rgb(255,200,200) 66.75px,rgb(254,100,100) 68.50px,rgb(254,80,80) 69.00px,rgb(254,63,63) 69.75px,rgb(254,57,57) 70.50px,rgb(254,63,63) 71.25px,rgb(254,78,78) 71.75px,rgb(254,102,102) 72.25px,rgb(255,178,178) 73.25px,rgb(255,211,211) 73.75px,rgb(255,227,227) 74.25px,rgb(255,236,236) 75.00px,rgb(255,238,238) 76.25px,rgb(255,236,236) 77.50px,rgb(255,231,231) 78.25px,rgb(255,211,211) 79.75px,rgb(255,204,204) 80.75px,rgb(255,203,203) 87.00px,rgb(255,207,207) 87.75px,rgb(255,213,213) 88.25px,rgb(255,222,222) 88.75px,rgb(255,250,250) 90.25px,rgb(255,254,254) 91.00px,rgb(255,255,255) 92.25px,rgb(255,255,255) 97.25px,rgb(255,253,253) 98.00px,rgb(255,244,244) 98.50px,rgb(255,234,234) 98.75px,rgb(255,197,197) 99.25px,rgb(254,91,91) 100.25px,rgb(254,70,70) 100.50px,rgb(254,40,40) 101.00px,rgb(254,30,30) 101.25px,rgb(254,19,19) 101.75px,rgb(254,15,15) 102.25px,rgb(254,14,14) 103.25px,rgb(254,14,14) 113.25px,rgb(254,16,16) 114.25px,rgb(254,21,21) 114.75px,rgb(254,37,37) 115.50px,rgb(254,56,56) 116.00px,rgb(255,159,159) 118.00px,rgb(255,200,200) 118.75px,rgb(255,229,229) 119.50px,rgb(255,246,246) 120.25px,rgb(255,252,252) 120.75px,rgb(255,254,254) 121.25px,rgb(255,255,255) 122.00px,rgb(255,255,255) 141.25px,rgb(255,252,252) 142.75px,rgb(255,223,223) 146.50px,rgb(255,206,206) 148.25px,rgb(255,201,201) 149.75px,rgb(255,200,200) 152.75px,rgb(255,201,201) 155.75px,rgb(255,211,211) 158.50px,rgb(255,222,222) 159.75px,rgb(255,252,252) 162.75px,rgb(255,255,255) 164.00px,rgb(255,255,255) 179.00px,rgb(255,254,254) 179.75px,rgb(255,252,252) 180.25px,rgb(255,247,247) 180.75px,rgb(255,220,220) 182.00px,rgb(255,206,206) 183.00px,rgb(255,203,203) 184.00px,rgb(255,201,201) 192.50px,rgb(255,192,192) 193.50px,rgb(255,167,167) 195.00px,rgb(255,159,159) 196.25px,rgb(255,161,161) 197.25px,rgb(255,170,170) 198.00px,rgb(255,182,182) 198.50px,rgb(255,224,224) 200.00px,rgb(255,231,231) 200.50px,rgb(255,235,235) 201.25px,rgb(255,236,236) 213.50px,rgb(255,231,231) 214.50px,rgb(255,219,219) 215.00px,rgb(255,208,208) 215.25px,rgb(255,171,171) 215.75px,rgb(254,66,66) 217.00px,rgb(254,38,38) 217.50px,rgb(254,23,23) 218.00px,rgb(254,17,17) 218.50px,rgb(254,14,14) 219.25px,rgb(254,14,14) 225.00px,rgb(254,16,16) 227.25px,rgb(254,19,19) 227.75px,rgb(254,28,28) 228.25px,rgb(254,56,56) 229.00px,rgb(255,157,157) 230.75px,rgb(255,187,187) 231.25px,rgb(255,208,208) 231.75px,rgb(255,227,227) 232.50px,rgb(255,237,237) 233.25px,rgb(255,245,245) 234.25px,rgb(255,249,249) 235.25px,rgb(255,248,248) 259.75px,rgb(255,247,247) 261.00px,rgb(255,237,237) 263.75px,rgb(255,236,236) 268.75px,rgb(255,240,240) 270.50px,rgb(255,254,254) 272.75px,rgb(255,255,255) 274.25px,rgb(255,255,255) 319.00px)"></div><div class="ln" style="top:723.5px;height:35.2px;background:linear-gradient(90deg,rgb(254,19,19) 0.00px,rgb(254,20,20) 7.00px,rgb(254,27,27) 8.00px,rgb(254,48,48) 9.75px,rgb(254,53,53) 11.00px,rgb(254,49,49) 12.25px,rgb(254,25,25) 14.25px,rgb(254,19,19) 15.50px,rgb(254,15,15) 27.75px,rgb(254,17,17) 29.00px,rgb(254,28,28) 29.75px,rgb(254,54,54) 30.50px,rgb(254,80,80) 31.00px,rgb(255,160,160) 32.25px,rgb(255,196,196) 32.75px,rgb(255,223,223) 33.25px,rgb(255,240,240) 33.75px,rgb(255,249,249) 34.25px,rgb(255,253,253) 34.75px,rgb(255,255,255) 36.00px,rgb(255,255,255) 63.75px,rgb(255,255,255) 65.25px,rgb(255,251,251) 66.00px,rgb(255,242,242) 66.50px,rgb(255,234,234) 66.75px,rgb(255,188,188) 67.50px,rgb(254,90,90) 68.75px,rgb(254,64,64) 69.25px,rgb(254,54,54) 69.50px,rgb(254,42,42) 70.00px,rgb(254,36,36) 70.75px,rgb(254,43,43) 71.50px,rgb(254,57,57) 72.00px,rgb(254,82,82) 72.50px,rgb(255,158,158) 73.50px,rgb(255,199,199) 74.00px,rgb(255,222,222) 74.50px,rgb(255,235,235) 75.25px,rgb(255,238,238) 76.25px,rgb(255,238,238) 78.25px,rgb(255,222,222) 81.75px,rgb(255,221,221) 87.00px,rgb(255,227,227) 88.25px,rgb(255,252,252) 90.25px,rgb(255,255,255) 91.25px,rgb(255,255,255) 99.50px,rgb(255,253,253) 100.25px,rgb(255,246,246) 100.75px,rgb(255,238,238) 101.00px,rgb(255,205,205) 101.50px,rgb(254,76,76) 102.75px,rgb(254,58,58) 103.00px,rgb(254,33,33) 103.50px,rgb(254,25,25) 103.75px,rgb(254,17,17) 104.25px,rgb(254,14,14) 105.50px,rgb(254,14,14) 114.50px,rgb(254,17,17) 115.50px,rgb(254,23,23) 116.00px,rgb(254,34,34) 116.50px,rgb(254,53,53) 117.00px,rgb(254,77,77) 117.50px,rgb(255,166,166) 119.00px,rgb(255,211,211) 119.75px,rgb(255,231,231) 120.25px,rgb(255,244,244) 120.75px,rgb(255,251,251) 121.25px,rgb(255,254,254) 121.75px,rgb(255,255,255) 122.50px,rgb(255,255,255) 141.25px,rgb(255,252,252) 143.00px,rgb(255,210,210) 148.50px,rgb(255,206,206) 149.75px,rgb(255,206,206) 153.25px,rgb(255,208,208) 156.00px,rgb(255,218,218) 158.75px,rgb(255,229,229) 160.00px,rgb(255,252,252) 162.75px,rgb(255,255,255) 164.00px,rgb(255,255,255) 178.75px,rgb(255,255,255) 179.50px,rgb(255,252,252) 180.25px,rgb(255,247,247) 180.75px,rgb(255,220,220) 182.00px,rgb(255,206,206) 183.00px,rgb(255,203,203) 184.00px,rgb(255,201,201) 190.25px,rgb(255,185,185) 192.75px,rgb(255,182,182) 194.00px,rgb(255,182,182) 197.75px,rgb(255,185,185) 198.75px,rgb(255,195,195) 199.50px,rgb(255,228,228) 201.25px,rgb(255,236,236) 202.50px,rgb(255,236,236) 213.50px,rgb(255,231,231) 214.50px,rgb(255,219,219) 215.00px,rgb(255,208,208) 215.25px,rgb(255,171,171) 215.75px,rgb(254,84,84) 216.75px,rgb(254,51,51) 217.25px,rgb(254,30,30) 217.75px,rgb(254,19,19) 218.25px,rgb(254,14,14) 219.50px,rgb(254,14,14) 228.50px,rgb(254,16,16) 230.75px,rgb(254,19,19) 231.25px,rgb(254,28,28) 231.75px,rgb(254,55,55) 232.50px,rgb(255,156,156) 234.25px,rgb(255,187,187) 234.75px,rgb(255,208,208) 235.25px,rgb(255,227,227) 236.00px,rgb(255,237,237) 236.75px,rgb(255,245,245) 237.75px,rgb(255,249,249) 238.75px,rgb(255,248,248) 257.50px,rgb(255,246,246) 258.75px,rgb(255,227,227) 260.75px,rgb(255,222,222) 261.75px,rgb(255,221,221) 270.50px,rgb(255,226,226) 272.25px,rgb(255,235,235) 273.00px,rgb(255,252,252) 274.50px,rgb(255,255,255) 275.25px,rgb(255,255,255) 276.00px,rgb(255,255,255) 319.00px)"></div><div class="ln" style="top:758.7px;height:33.6px;background:linear-gradient(90deg,rgb(254,14,14) 0.00px,rgb(254,14,14) 27.50px,rgb(254,17,17) 29.00px,rgb(254,28,28) 29.75px,rgb(254,54,54) 30.50px,rgb(254,80,80) 31.00px,rgb(255,160,160) 32.25px,rgb(255,196,196) 32.75px,rgb(255,223,223) 33.25px,rgb(255,240,240) 33.75px,rgb(255,249,249) 34.25px,rgb(255,253,253) 34.75px,rgb(255,255,255) 36.00px,rgb(255,255,255) 63.00px,rgb(255,252,252) 64.00px,rgb(255,247,247) 64.50px,rgb(255,233,233) 65.25px,rgb(255,210,210) 66.00px,rgb(255,177,177) 66.75px,rgb(254,85,85) 68.75px,rgb(254,65,65) 69.50px,rgb(254,57,57) 70.25px,rgb(254,55,55) 71.75px,rgb(254,61,61) 72.75px,rgb(254,75,75) 73.50px,rgb(254,113,113) 74.75px,rgb(254,125,125) 75.25px,rgb(255,133,133) 75.75px,rgb(255,137,137) 76.50px,rgb(255,135,135) 79.50px,rgb(254,103,103) 83.50px,rgb(254,91,91) 87.00px,rgb(254,94,94) 88.50px,rgb(254,115,115) 91.75px,rgb(254,118,118) 93.00px,rgb(254,111,111) 94.75px,rgb(254,103,103) 95.75px,rgb(254,90,90) 96.50px,rgb(254,39,39) 98.00px,rgb(254,26,26) 98.50px,rgb(254,17,17) 99.25px,rgb(254,14,14) 100.75px,rgb(254,16,16) 123.50px,rgb(254,23,23) 124.25px,rgb(254,35,35) 124.75px,rgb(254,53,53) 125.25px,rgb(254,121,121) 126.75px,rgb(255,138,138) 127.25px,rgb(255,149,149) 127.75px,rgb(255,161,161) 128.75px,rgb(255,167,167) 132.25px,rgb(255,161,161) 134.00px,rgb(254,125,125) 139.00px,rgb(254,117,117) 143.00px,rgb(254,111,111) 143.50px,rgb(254,100,100) 144.00px,rgb(254,48,48) 145.50px,rgb(254,35,35) 146.00px,rgb(254,27,27) 146.50px,rgb(254,23,23) 147.00px,rgb(254,21,21) 157.50px,rgb(254,28,28) 158.50px,rgb(254,43,43) 159.25px,rgb(254,71,71) 160.00px,rgb(255,195,195) 162.25px,rgb(255,228,228) 163.00px,rgb(255,244,244) 163.75px,rgb(255,250,250) 164.75px,rgb(255,255,255) 179.25px,rgb(255,253,253) 180.00px,rgb(255,250,250) 180.50px,rgb(255,220,220) 182.00px,rgb(255,211,211) 182.50px,rgb(255,204,204) 183.25px,rgb(255,202,202) 184.75px,rgb(255,205,205) 189.25px,rgb(255,212,212) 190.00px,rgb(255,235,235) 191.75px,rgb(255,239,239) 192.75px,rgb(255,239,239) 194.25px,rgb(255,237,237) 195.25px,rgb(255,211,211) 197.25px,rgb(255,204,204) 198.50px,rgb(255,210,210) 199.50px,rgb(255,243,243) 201.50px,rgb(255,248,248) 202.50px,rgb(255,248,248) 213.50px,rgb(255,244,244) 214.50px,rgb(255,234,234) 215.00px,rgb(255,224,224) 215.25px,rgb(255,187,187) 215.75px,rgb(254,89,89) 216.75px,rgb(254,53,53) 217.25px,rgb(254,31,31) 217.75px,rgb(254,20,20) 218.25px,rgb(254,15,15) 218.75px,rgb(254,14,14) 219.50px,rgb(254,14,14) 226.25px,rgb(254,15,15) 228.25px,rgb(254,18,18) 228.75px,rgb(254,24,24) 229.25px,rgb(254,38,38) 229.75px,rgb(254,48,48) 230.00px,rgb(254,73,73) 230.50px,rgb(255,163,163) 232.00px,rgb(255,193,193) 232.50px,rgb(255,214,214) 233.00px,rgb(255,233,233) 233.75px,rgb(255,250,250) 235.00px,rgb(255,254,254) 235.75px,rgb(255,255,255) 236.75px,rgb(255,255,255) 263.75px,rgb(255,255,255) 265.25px,rgb(255,249,249) 267.50px,rgb(255,248,248) 270.25px,rgb(255,249,249) 272.50px,rgb(255,255,255) 274.75px,rgb(255,255,255) 276.25px,rgb(255,255,255) 319.00px)"></div>
<svg style="position:absolute;left:0;top:0" width="685" height="931"><rect x="39.0" y="85.80" width="319.5" height="1.20" fill="rgba(0,0,0,.6)"/><rect x="39.0" y="117.80" width="319.5" height="3.20" fill="rgba(0,0,0,.5)"/><rect x="39.0" y="153.80" width="319.5" height="3.20" fill="rgba(0,0,0,.5)"/><rect x="39.0" y="189.90" width="319.5" height="2.00" fill="#f6f6f6"/><rect x="39.0" y="188.40" width="319.5" height="1.50" fill="rgba(0,0,0,.5)"/><rect x="39.0" y="191.90" width="319.5" height="1.50" fill="rgba(0,0,0,.5)"/><rect x="39.0" y="224.30" width="319.5" height="2.00" fill="#f6f6f6"/><rect x="39.0" y="222.80" width="319.5" height="1.50" fill="rgba(0,0,0,.5)"/><rect x="39.0" y="226.30" width="319.5" height="1.50" fill="rgba(0,0,0,.5)"/><rect x="39.0" y="260.40" width="319.5" height="2.00" fill="#f6f6f6"/><rect x="39.0" y="258.90" width="319.5" height="1.50" fill="rgba(0,0,0,.5)"/><rect x="39.0" y="262.40" width="319.5" height="1.50" fill="rgba(0,0,0,.5)"/><rect x="39.0" y="294.80" width="319.5" height="3.20" fill="rgba(0,0,0,.5)"/><rect x="39.0" y="330.40" width="319.5" height="2.00" fill="#f6f6f6"/><rect x="39.0" y="328.90" width="319.5" height="1.50" fill="rgba(0,0,0,.5)"/><rect x="39.0" y="332.40" width="319.5" height="1.70" fill="rgba(0,0,0,.9)"/><rect x="39.0" y="366.80" width="319.5" height="2.00" fill="#f6f6f6"/><rect x="39.0" y="365.30" width="319.5" height="1.50" fill="rgba(0,0,0,.5)"/><rect x="39.0" y="368.80" width="319.5" height="1.50" fill="rgba(0,0,0,.5)"/><rect x="39.0" y="402.60" width="319.5" height="2.00" fill="#f6f6f6"/><rect x="39.0" y="401.10" width="319.5" height="1.50" fill="rgba(0,0,0,.5)"/><rect x="39.0" y="404.60" width="319.5" height="1.50" fill="rgba(0,0,0,.5)"/><rect x="39.0" y="437.40" width="319.5" height="3.20" fill="rgba(0,0,0,.5)"/><rect x="39.0" y="473.10" width="319.5" height="2.00" fill="#f6f6f6"/><rect x="39.0" y="471.60" width="319.5" height="1.50" fill="rgba(0,0,0,.5)"/><rect x="39.0" y="475.10" width="319.5" height="1.50" fill="rgba(0,0,0,.5)"/><rect x="39.0" y="507.80" width="319.5" height="2.00" fill="#f6f6f6"/><rect x="39.0" y="506.30" width="319.5" height="1.50" fill="rgba(0,0,0,.5)"/><rect x="39.0" y="509.80" width="319.5" height="1.50" fill="rgba(0,0,0,.5)"/><rect x="39.0" y="543.70" width="319.5" height="2.00" fill="#f6f6f6"/><rect x="39.0" y="542.20" width="319.5" height="1.50" fill="rgba(0,0,0,.5)"/><rect x="39.0" y="545.70" width="319.5" height="1.50" fill="rgba(0,0,0,.5)"/><rect x="39.0" y="580.20" width="319.5" height="2.00" fill="#f6f6f6"/><rect x="39.0" y="578.70" width="319.5" height="1.50" fill="rgba(0,0,0,.5)"/><rect x="39.0" y="582.20" width="319.5" height="1.50" fill="rgba(0,0,0,.5)"/><rect x="39.0" y="615.90" width="319.5" height="2.00" fill="#f6f6f6"/><rect x="39.0" y="614.40" width="319.5" height="1.50" fill="rgba(0,0,0,.5)"/><rect x="39.0" y="617.90" width="319.5" height="1.50" fill="rgba(0,0,0,.5)"/><rect x="39.0" y="650.30" width="319.5" height="2.00" fill="#f6f6f6"/><rect x="39.0" y="648.80" width="319.5" height="1.50" fill="rgba(0,0,0,.5)"/><rect x="39.0" y="652.30" width="319.5" height="1.50" fill="rgba(0,0,0,.5)"/><rect x="39.0" y="686.20" width="319.5" height="2.00" fill="#f6f6f6"/><rect x="39.0" y="684.70" width="319.5" height="1.50" fill="rgba(0,0,0,.5)"/><rect x="39.0" y="688.20" width="319.5" height="1.50" fill="rgba(0,0,0,.5)"/><rect x="39.0" y="722.50" width="319.5" height="2.00" fill="#f6f6f6"/><rect x="39.0" y="721.00" width="319.5" height="1.50" fill="rgba(0,0,0,.5)"/><rect x="39.0" y="724.50" width="319.5" height="1.50" fill="rgba(0,0,0,.5)"/><rect x="39.0" y="757.10" width="319.5" height="3.20" fill="rgba(0,0,0,.5)"/><rect x="39.0" y="791.70" width="319.5" height="1.20" fill="rgba(0,0,0,.6)"/></svg>
<div class="mk" style="top:97.4px"></div><div class="mk" style="top:131.9px"></div><div class="mk" style="top:167.7px"></div><div class="mk" style="top:202.6px"></div><div class="mk" style="top:237.8px"></div><div class="mk" style="top:273.4px"></div><div class="mk" style="top:308.4px"></div><div class="mk" style="top:344.1px"></div><div class="mk" style="top:380.2px"></div><div class="mk" style="top:415.8px"></div><div class="mk" style="top:451.1px"></div><div class="mk" style="top:486.0px"></div><div class="mk" style="top:521.2px"></div><div class="mk" style="top:557.5px"></div><div class="mk" style="top:593.5px"></div><div class="mk" style="top:628.6px"></div><div class="mk" style="top:663.8px"></div><div class="mk" style="top:699.9px"></div><div class="mk" style="top:735.6px"></div><div class="mk" style="top:770.0px"></div>
<div class="vl" style="left:172.5px"></div>
<div class="vl" style="left:199.9px"></div>
<div class="ax" style="left:75px;top:808px">8500</div>
<div class="ax" style="left:271px;top:808px">9500</div>
<svg style="position:absolute;left:0;top:0" width="685" height="931">
<polygon points="190.2,799.4 184.3,810.8 196,810.8" fill="#000"/>
<rect x="188.6" y="809" width="3.2" height="36" fill="#000"/>
<path d="M391.1,89.3 C399.5,89.8 405.6,97 405.6,111 L405.6,240 C405.6,250 411,256.5 419.3,261 C411,265.5 405.6,272 405.6,282 L405.6,413 C405.6,425 400,432 392.4,433.2" fill="none" stroke="#5a5a5a" stroke-width="2.1"/>
<path d="M391,445.1 C399.5,445.8 405.5,451 405.5,462 L405.5,598 C405.5,608 411,613 420,616.8 C411,620.5 405.5,626 405.5,636 L405.5,764 C405.5,778 400,787.5 392,788.8" fill="none" stroke="#5a5a5a" stroke-width="2.1"/>
</svg>
<div class="num" style="top:90.76px">1</div><div class="num" style="top:126.76px">2</div><div class="num" style="top:161.66px">3</div><div class="num" style="top:198.66px">4</div><div class="num" style="top:235.16px">5</div><div class="num" style="top:267.66px">6</div><div class="num" style="top:304.26px">7</div><div class="num" style="top:341.86px">8</div><div class="num" style="top:376.26px">9</div><div class="num" style="top:410.56px">10</div><div class="num" style="top:444.76px">1</div><div class="num" style="top:480.96px">2</div><div class="num" style="top:515.26px">3</div><div class="num" style="top:552.86px">4</div><div class="num" style="top:587.56px">5</div><div class="num" style="top:621.36px">6</div><div class="num" style="top:659.46px">7</div><div class="num" style="top:693.66px">8</div><div class="num" style="top:728.56px">9</div><div class="num" style="top:764.56px">10</div>
<div class="ser" style="left:431px;top:216px;font-size:41.5px">Control</div>
<div class="ser" style="left:464.6px;top:265.5px;font-size:40.5px">diet</div>
<div class="ser" style="left:432.5px;top:569px;font-size:41px">Supplemented</div>
<div class="ser" style="left:518.6px;top:619.6px;font-size:40.5px">diet</div>
<div class="ser" style="left:156px;top:850px;font-size:27.5px;letter-spacing:0.5px">PF-4?</div>
<div class="ser" style="left:129px;top:882px;font-size:27px">(p=0.0025)</div>
</body></html>
